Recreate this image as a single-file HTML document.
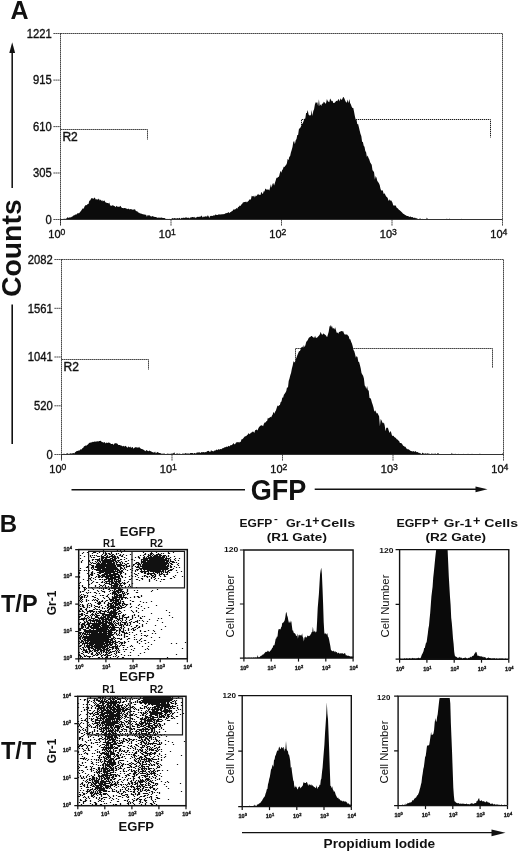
<!DOCTYPE html>
<html><head><meta charset="utf-8"><style>
html,body{margin:0;padding:0;background:#fff;width:520px;height:853px;overflow:hidden}
svg{display:block;will-change:transform}
text{font-family:"Liberation Sans", sans-serif;fill:#111}
</style></head><body>
<svg width="520" height="853" viewBox="0 0 520 853">
<text x="10.5" y="19.3" font-size="25" font-weight="bold" text-anchor="start" >A</text>
<path d="M60.5,129.5H147.5V139.5" fill="none" stroke="#1a1a1a" stroke-width="1" stroke-dasharray="1.3,0.7"/>
<path d="M301.5,125V119.5H490.5V137.5" fill="none" stroke="#1a1a1a" stroke-width="1" stroke-dasharray="1.3,0.7"/>
<path d="M60.5,219.5L60.5,219.5L61.3,219.5L62.1,218.9L62.9,219.5L63.7,218.8L64.5,218.7L65.3,218.9L66.1,218.4L66.9,218.2L67.7,217.1L68.5,218.0L69.3,217.6L70.1,217.2L70.9,217.4L71.7,216.7L72.5,216.4L73.3,215.6L74.1,215.5L74.9,214.8L75.7,214.4L76.5,214.4L77.3,213.5L78.1,213.1L78.9,213.5L79.7,212.6L80.5,211.4L81.3,210.5L82.1,209.3L82.9,208.2L83.7,208.7L84.5,206.6L85.3,205.3L86.1,205.3L86.9,204.9L87.7,204.0L88.5,204.1L89.3,200.7L90.1,200.6L90.9,199.1L91.7,198.0L92.5,198.3L93.3,199.1L94.1,197.8L94.9,197.7L95.7,199.4L96.5,199.3L97.3,199.4L98.1,199.6L98.9,198.6L99.7,200.5L100.5,199.5L101.3,201.0L102.1,200.0L102.9,201.6L103.7,200.8L104.5,200.5L105.3,202.3L106.1,202.5L106.9,203.1L107.7,203.0L108.5,203.6L109.3,202.5L110.1,205.3L110.9,205.7L111.7,205.8L112.5,205.2L113.3,205.4L114.1,205.9L114.9,206.3L115.7,207.2L116.5,205.7L117.3,206.4L118.1,207.1L118.9,206.5L119.7,206.8L120.5,205.8L121.3,207.2L122.1,207.9L122.9,207.9L123.7,208.3L124.5,208.1L125.3,208.0L126.1,208.8L126.9,208.5L127.7,209.2L128.5,208.4L129.3,209.5L130.1,208.9L130.9,209.3L131.7,209.3L132.5,209.7L133.3,209.4L134.1,209.8L134.9,208.9L135.7,210.7L136.5,211.3L137.3,211.3L138.1,212.4L138.9,212.6L139.7,213.2L140.5,213.4L141.3,213.5L142.1,214.2L142.9,214.1L143.7,214.6L144.5,214.4L145.3,214.8L146.1,214.7L146.9,216.7L147.7,215.1L148.5,215.4L149.3,215.2L150.1,215.7L150.9,216.4L151.7,216.5L152.5,216.1L153.3,216.6L154.1,216.8L154.9,217.1L155.7,217.1L156.5,217.3L157.3,217.8L158.1,217.7L158.9,217.6L159.7,217.8L160.5,217.8L161.3,217.5L162.1,217.8L162.9,218.0L163.7,218.1L164.5,218.1L165.3,218.4L166.1,219.3L166.9,218.8L167.7,218.9L168.5,218.9L169.3,218.8L170.1,219.4L170.9,218.9L171.7,218.7L172.5,218.1L173.3,218.6L174.1,218.3L174.9,218.1L175.7,218.4L176.5,218.6L177.3,218.1L178.1,218.5L178.9,218.2L179.7,217.8L180.5,218.9L181.3,218.0L182.1,217.8L182.9,218.3L183.7,217.4L184.5,218.0L185.3,217.4L186.1,217.6L186.9,217.4L187.7,217.9L188.5,217.5L189.3,218.4L190.1,217.5L190.9,217.5L191.7,217.3L192.5,217.1L193.3,217.1L194.1,217.8L194.9,216.8L195.7,218.2L196.5,217.2L197.3,216.8L198.1,217.0L198.9,216.8L199.7,216.7L200.5,216.8L201.3,215.6L202.1,216.6L202.9,217.5L203.7,216.4L204.5,216.7L205.3,216.4L206.1,216.1L206.9,216.9L207.7,215.2L208.5,216.0L209.3,218.0L210.1,215.8L210.9,216.2L211.7,215.8L212.5,215.9L213.3,215.6L214.1,215.3L214.9,215.5L215.7,214.3L216.5,215.0L217.3,214.9L218.1,214.8L218.9,214.3L219.7,214.4L220.5,214.6L221.3,214.3L222.1,214.6L222.9,214.1L223.7,214.3L224.5,213.9L225.3,213.5L226.1,213.1L226.9,213.3L227.7,212.7L228.5,212.1L229.3,213.3L230.1,212.3L230.9,212.0L231.7,211.3L232.5,210.9L233.3,209.5L234.1,209.6L234.9,209.5L235.7,209.0L236.5,208.1L237.3,208.8L238.1,207.0L238.9,206.7L239.7,205.6L240.5,206.1L241.3,204.5L242.1,204.0L242.9,202.6L243.7,202.3L244.5,201.9L245.3,202.1L246.1,201.5L246.9,202.6L247.7,201.5L248.5,200.9L249.3,199.5L250.1,199.4L250.9,199.6L251.7,195.8L252.5,196.3L253.3,196.6L254.1,195.4L254.9,197.4L255.7,195.4L256.5,196.1L257.3,195.1L258.1,193.8L258.9,195.1L259.7,194.8L260.5,195.1L261.3,191.7L262.1,193.2L262.9,194.0L263.7,191.3L264.5,191.4L265.3,188.4L266.1,189.3L266.9,189.8L267.7,189.5L268.5,189.5L269.3,190.5L270.1,187.4L270.9,184.2L271.7,187.8L272.5,184.0L273.3,183.0L274.1,185.5L274.9,182.9L275.7,180.4L276.5,177.7L277.3,177.9L278.1,176.7L278.9,177.0L279.7,173.8L280.5,170.7L281.3,172.7L282.1,170.2L282.9,169.2L283.7,166.7L284.5,166.9L285.3,165.8L286.1,165.0L286.9,163.3L287.7,158.8L288.5,160.2L289.3,156.7L290.1,156.2L290.9,152.4L291.7,150.1L292.5,146.9L293.3,141.9L294.1,140.9L294.9,144.3L295.7,140.3L296.5,139.1L297.3,134.9L298.1,134.9L298.9,129.3L299.7,128.2L300.5,127.5L301.3,125.6L302.1,124.0L302.9,123.0L303.7,120.8L304.5,118.7L305.3,118.4L306.1,113.0L306.9,112.9L307.7,110.1L308.5,114.2L309.3,115.7L310.1,114.7L310.9,115.7L311.7,109.9L312.5,116.0L313.3,111.0L314.1,109.2L314.9,104.4L315.7,102.3L316.5,102.8L317.3,102.2L318.1,106.3L318.9,99.3L319.7,105.9L320.5,104.3L321.3,106.0L322.1,103.2L322.9,103.9L323.7,101.8L324.5,102.2L325.3,103.8L326.1,103.1L326.9,98.9L327.7,101.0L328.5,101.8L329.3,102.3L330.1,98.6L330.9,99.7L331.7,101.2L332.5,100.8L333.3,103.0L334.1,103.0L334.9,102.4L335.7,101.6L336.5,100.8L337.3,101.3L338.1,99.6L338.9,99.3L339.7,101.6L340.5,98.2L341.3,99.8L342.1,99.5L342.9,97.6L343.7,96.9L344.5,98.7L345.3,100.7L346.1,102.2L346.9,102.5L347.7,99.6L348.5,103.2L349.3,99.0L350.1,102.9L350.9,104.5L351.7,106.8L352.5,107.9L353.3,107.9L354.1,112.1L354.9,116.2L355.7,119.8L356.5,119.8L357.3,124.2L358.1,123.9L358.9,127.2L359.7,130.8L360.5,134.1L361.3,136.1L362.1,141.7L362.9,142.1L363.7,145.7L364.5,146.7L365.3,150.9L366.1,152.2L366.9,157.0L367.7,155.4L368.5,157.9L369.3,159.6L370.1,162.3L370.9,163.5L371.7,164.7L372.5,170.3L373.3,170.9L374.1,172.4L374.9,179.6L375.7,176.1L376.5,177.8L377.3,181.0L378.1,182.0L378.9,183.3L379.7,184.9L380.5,188.8L381.3,190.7L382.1,190.1L382.9,190.9L383.7,194.0L384.5,193.3L385.3,194.7L386.1,196.6L386.9,197.1L387.7,198.0L388.5,201.0L389.3,199.2L390.1,200.9L390.9,200.1L391.7,201.3L392.5,202.7L393.3,205.8L394.1,205.0L394.9,206.0L395.7,205.3L396.5,207.5L397.3,207.9L398.1,208.7L398.9,209.8L399.7,210.2L400.5,211.1L401.3,211.7L402.1,212.6L402.9,213.5L403.7,213.9L404.5,214.6L405.3,215.0L406.1,215.4L406.9,216.0L407.7,216.1L408.5,216.3L409.3,217.0L410.1,216.6L410.9,216.7L411.7,217.3L412.5,217.1L413.3,217.7L414.1,217.9L414.9,217.6L415.7,218.3L416.5,218.3L417.3,218.4L418.1,219.2L418.9,219.2L419.7,218.6L420.5,218.6L421.3,219.5L422.1,218.7L422.9,219.3L423.7,219.0L424.5,219.1L425.3,219.3L426.1,219.5L426.9,217.6L427.7,219.0L428.5,219.5L429.3,219.4L430.1,219.3L430.9,219.5L431.7,219.3L432.5,219.5L433.3,219.5L434.1,219.5L434.9,219.5L435.7,219.5L436.5,219.5L437.3,219.3L438.1,219.5L438.9,219.5L439.7,219.5L440.5,219.5L441.3,219.5L442.1,219.0L442.9,219.5L443.7,219.5L444.5,219.5L445.3,219.5L446.1,219.4L446.9,218.6L447.7,219.4L448.5,219.5L449.3,218.6L450.1,219.2L450.9,219.4L451.7,219.5L452.5,219.5L453.3,219.5L454.1,219.3L454.9,219.5L455.7,219.5L456.5,219.5L457.3,219.5L458.1,219.2L458.9,219.5L459.7,219.5L460.5,219.5L461.3,218.7L462.1,219.3L462.9,219.5L463.7,219.1L464.5,219.5L465.3,219.4L466.1,219.5L466.9,219.5L467.7,219.1L468.5,219.5L469.3,219.5L470.1,219.5L470.9,219.5L471.7,219.5L472.5,219.5L473.3,219.5L474.1,219.5L474.9,219.5L475.7,219.5L476.5,219.5L477.3,219.5L478.1,219.3L478.9,219.5L479.7,219.5L480.5,219.5L481.3,219.5L482.1,219.5L482.9,219.5L483.7,219.5L484.5,219.5L485.3,219.5L486.1,219.5L486.9,219.3L487.7,219.5L488.5,219.5L489.3,219.5L490.1,219.5L490.9,219.0L491.7,219.5L492.5,219.5L493.3,219.5L494.1,219.5L494.9,219.5L495.7,219.5L496.5,219.5L497.3,219.5L498.1,219.5L498.9,219.5L499.7,219.3L500.5,219.5L501.3,219.5L502.1,219.5L502.5,219.5Z" fill="#0b0b0b"/>
<path d="M60.5,33.5H502.5V219.5" fill="none" stroke="#1a1a1a" stroke-width="1" stroke-dasharray="1.3,0.7"/>
<path d="M60.5,33.5V224.5" fill="none" stroke="#1a1a1a" stroke-width="1" stroke-dasharray="1.3,0.7"/>
<path d="M60.5,219.5H502.5" fill="none" stroke="#333" stroke-width="1.1"/>
<path d="M53.5,33.5H60.5" stroke="#222" stroke-width="1" stroke-dasharray="1.3,0.7"/>
<text x="51.7" y="37.8" font-size="12" font-weight="normal" text-anchor="end" stroke="#111" stroke-width="0.35" textLength="25.00" lengthAdjust="spacingAndGlyphs">1221</text>
<path d="M53.5,80.1H60.5" stroke="#222" stroke-width="1" stroke-dasharray="1.3,0.7"/>
<text x="51.7" y="84.4142506142506" font-size="12" font-weight="normal" text-anchor="end" stroke="#111" stroke-width="0.35" textLength="18.75" lengthAdjust="spacingAndGlyphs">915</text>
<path d="M53.5,126.6H60.5" stroke="#222" stroke-width="1" stroke-dasharray="1.3,0.7"/>
<text x="51.7" y="130.87616707616706" font-size="12" font-weight="normal" text-anchor="end" stroke="#111" stroke-width="0.35" textLength="18.75" lengthAdjust="spacingAndGlyphs">610</text>
<path d="M53.5,173.0H60.5" stroke="#222" stroke-width="1" stroke-dasharray="1.3,0.7"/>
<text x="51.7" y="177.33808353808354" font-size="12" font-weight="normal" text-anchor="end" stroke="#111" stroke-width="0.35" textLength="18.75" lengthAdjust="spacingAndGlyphs">305</text>
<path d="M53.5,219.5H60.5" stroke="#222" stroke-width="1" stroke-dasharray="1.3,0.7"/>
<text x="51.7" y="223.8" font-size="12" font-weight="normal" text-anchor="end" stroke="#111" stroke-width="0.35" textLength="6.25" lengthAdjust="spacingAndGlyphs">0</text>
<path d="M60.5,219.5V226.0" stroke="#222" stroke-width="1" stroke-dasharray="1.3,0.7"/>
<text x="48.3" y="237.9" font-size="11" font-weight="normal" text-anchor="start" stroke="#111" stroke-width="0.35">10<tspan font-size="8.6" dy="-2.9">0</tspan></text>
<path d="M171.0,219.5V226.0" stroke="#222" stroke-width="1" stroke-dasharray="1.3,0.7"/>
<text x="158.8" y="237.9" font-size="11" font-weight="normal" text-anchor="start" stroke="#111" stroke-width="0.35">10<tspan font-size="8.6" dy="-2.9">1</tspan></text>
<path d="M281.5,219.5V226.0" stroke="#222" stroke-width="1" stroke-dasharray="1.3,0.7"/>
<text x="269.3" y="237.9" font-size="11" font-weight="normal" text-anchor="start" stroke="#111" stroke-width="0.35">10<tspan font-size="8.6" dy="-2.9">2</tspan></text>
<path d="M392.0,219.5V226.0" stroke="#222" stroke-width="1" stroke-dasharray="1.3,0.7"/>
<text x="379.8" y="237.9" font-size="11" font-weight="normal" text-anchor="start" stroke="#111" stroke-width="0.35">10<tspan font-size="8.6" dy="-2.9">3</tspan></text>
<path d="M502.5,219.5V226.0" stroke="#222" stroke-width="1" stroke-dasharray="1.3,0.7"/>
<text x="490.3" y="237.9" font-size="11" font-weight="normal" text-anchor="start" stroke="#111" stroke-width="0.35">10<tspan font-size="8.6" dy="-2.9">4</tspan></text>
<text x="62.4" y="141.4" font-size="12" font-weight="normal" text-anchor="start" stroke="#111" stroke-width="0.4">R2</text>
<path d="M61.5,359.5H148.5V369.5" fill="none" stroke="#1a1a1a" stroke-width="1" stroke-dasharray="1.3,0.7"/>
<path d="M295.5,362.5V348.5H492.5V368" fill="none" stroke="#1a1a1a" stroke-width="1" stroke-dasharray="1.3,0.7"/>
<path d="M61.5,454.5L61.5,454.0L62.3,454.0L63.1,454.4L63.9,453.6L64.7,454.1L65.5,454.2L66.3,453.7L67.1,453.2L67.9,453.6L68.7,453.9L69.5,453.7L70.3,453.2L71.1,453.5L71.9,453.6L72.7,453.3L73.5,453.1L74.3,453.5L75.1,452.3L75.9,451.7L76.7,451.1L77.5,450.9L78.3,450.6L79.1,450.7L79.9,450.0L80.7,449.2L81.5,449.5L82.3,448.3L83.1,447.9L83.9,446.6L84.7,446.0L85.5,445.6L86.3,445.8L87.1,444.9L87.9,444.5L88.7,443.6L89.5,442.8L90.3,442.7L91.1,442.3L91.9,442.5L92.7,441.7L93.5,442.0L94.3,441.4L95.1,441.8L95.9,441.4L96.7,441.5L97.5,441.2L98.3,441.4L99.1,441.1L99.9,440.9L100.7,440.8L101.5,441.8L102.3,441.9L103.1,442.4L103.9,442.4L104.7,442.0L105.5,443.5L106.3,442.5L107.1,442.9L107.9,442.8L108.7,442.5L109.5,442.8L110.3,443.3L111.1,444.1L111.9,443.9L112.7,443.8L113.5,444.9L114.3,443.5L115.1,443.5L115.9,443.0L116.7,443.4L117.5,443.8L118.3,444.9L119.1,445.1L119.9,445.1L120.7,445.4L121.5,445.5L122.3,446.5L123.1,445.7L123.9,446.3L124.7,446.4L125.5,445.8L126.3,446.6L127.1,447.6L127.9,447.5L128.7,446.2L129.5,447.5L130.3,446.5L131.1,448.0L131.9,447.2L132.7,447.0L133.5,448.7L134.3,447.7L135.1,447.6L135.9,447.0L136.7,447.6L137.5,447.6L138.3,447.7L139.1,446.7L139.9,448.0L140.7,448.4L141.5,448.9L142.3,449.1L143.1,449.7L143.9,449.7L144.7,450.8L145.5,451.2L146.3,449.9L147.1,450.4L147.9,450.9L148.7,451.3L149.5,450.5L150.3,451.0L151.1,451.5L151.9,451.8L152.7,452.3L153.5,452.4L154.3,452.4L155.1,451.5L155.9,453.4L156.7,452.6L157.5,452.1L158.3,452.6L159.1,453.1L159.9,453.0L160.7,453.2L161.5,453.7L162.3,453.8L163.1,453.5L163.9,453.8L164.7,453.5L165.5,454.5L166.3,453.7L167.1,454.5L167.9,452.9L168.7,454.2L169.5,453.8L170.3,454.0L171.1,453.5L171.9,453.8L172.7,453.6L173.5,453.3L174.3,452.2L175.1,454.3L175.9,453.9L176.7,453.4L177.5,453.5L178.3,453.7L179.1,454.0L179.9,453.2L180.7,454.5L181.5,454.4L182.3,453.4L183.1,453.7L183.9,453.5L184.7,453.8L185.5,453.1L186.3,453.6L187.1,453.6L187.9,453.6L188.7,453.6L189.5,453.8L190.3,453.1L191.1,452.9L191.9,453.1L192.7,453.1L193.5,453.8L194.3,453.1L195.1,453.1L195.9,453.7L196.7,452.5L197.5,452.5L198.3,452.5L199.1,452.3L199.9,452.6L200.7,453.1L201.5,451.9L202.3,452.2L203.1,452.2L203.9,452.0L204.7,452.4L205.5,452.0L206.3,452.2L207.1,451.1L207.9,451.2L208.7,450.8L209.5,451.7L210.3,452.0L211.1,450.0L211.9,451.3L212.7,451.1L213.5,451.4L214.3,450.5L215.1,450.7L215.9,450.1L216.7,449.6L217.5,450.2L218.3,449.0L219.1,449.8L219.9,449.2L220.7,449.1L221.5,449.3L222.3,448.3L223.1,448.2L223.9,447.8L224.7,447.3L225.5,447.2L226.3,446.6L227.1,446.9L227.9,446.4L228.7,445.8L229.5,446.6L230.3,445.2L231.1,445.2L231.9,444.9L232.7,444.2L233.5,442.9L234.3,444.2L235.1,444.2L235.9,442.7L236.7,442.3L237.5,442.3L238.3,441.9L239.1,442.8L239.9,441.8L240.7,441.9L241.5,439.2L242.3,439.3L243.1,438.4L243.9,437.6L244.7,436.5L245.5,436.3L246.3,436.1L247.1,434.9L247.9,434.4L248.7,433.1L249.5,434.2L250.3,433.4L251.1,432.4L251.9,432.6L252.7,431.6L253.5,431.7L254.3,433.1L255.1,430.2L255.9,430.1L256.7,429.4L257.5,430.4L258.3,428.4L259.1,426.9L259.9,426.3L260.7,425.4L261.5,425.3L262.3,425.4L263.1,426.2L263.9,423.7L264.7,422.4L265.5,422.5L266.3,421.3L267.1,421.1L267.9,417.8L268.7,418.4L269.5,417.7L270.3,416.8L271.1,417.5L271.9,415.7L272.7,414.4L273.5,411.7L274.3,413.8L275.1,411.7L275.9,410.4L276.7,408.1L277.5,405.6L278.3,406.2L279.1,405.3L279.9,405.0L280.7,401.9L281.5,401.6L282.3,397.5L283.1,397.8L283.9,394.7L284.7,393.7L285.5,392.6L286.3,391.1L287.1,386.8L287.9,388.2L288.7,380.9L289.5,378.6L290.3,375.3L291.1,372.7L291.9,368.6L292.7,365.6L293.5,361.3L294.3,362.0L295.1,362.4L295.9,358.9L296.7,357.0L297.5,354.8L298.3,353.0L299.1,351.1L299.9,351.2L300.7,349.1L301.5,347.3L302.3,346.6L303.1,347.8L303.9,344.9L304.7,347.3L305.5,344.8L306.3,341.7L307.1,340.9L307.9,339.7L308.7,337.9L309.5,337.3L310.3,336.9L311.1,336.0L311.9,336.1L312.7,337.1L313.5,337.4L314.3,337.8L315.1,335.8L315.9,338.1L316.7,337.8L317.5,337.3L318.3,336.2L319.1,335.4L319.9,334.2L320.7,331.7L321.5,333.9L322.3,335.0L323.1,333.6L323.9,333.8L324.7,334.6L325.5,335.0L326.3,335.9L327.1,337.3L327.9,334.4L328.7,331.8L329.5,326.8L330.3,325.1L331.1,327.6L331.9,325.5L332.7,328.5L333.5,328.1L334.3,329.4L335.1,327.3L335.9,330.0L336.7,332.7L337.5,332.4L338.3,333.8L339.1,331.8L339.9,332.1L340.7,331.3L341.5,331.1L342.3,331.4L343.1,331.0L343.9,333.2L344.7,334.6L345.5,334.6L346.3,334.6L347.1,334.6L347.9,335.4L348.7,336.3L349.5,339.3L350.3,339.2L351.1,341.7L351.9,343.4L352.7,346.3L353.5,350.1L354.3,351.3L355.1,354.2L355.9,357.8L356.7,355.9L357.5,357.2L358.3,361.7L359.1,362.1L359.9,365.1L360.7,368.3L361.5,373.1L362.3,374.6L363.1,375.8L363.9,378.4L364.7,385.5L365.5,386.6L366.3,388.9L367.1,385.9L367.9,390.3L368.7,390.5L369.5,398.0L370.3,398.0L371.1,399.4L371.9,402.5L372.7,404.7L373.5,407.5L374.3,411.7L375.1,410.3L375.9,411.7L376.7,413.6L377.5,412.9L378.3,414.7L379.1,416.2L379.9,426.3L380.7,419.0L381.5,420.3L382.3,422.3L383.1,423.5L383.9,422.6L384.7,425.4L385.5,431.2L386.3,427.7L387.1,427.8L387.9,427.8L388.7,430.5L389.5,433.0L390.3,430.9L391.1,432.2L391.9,435.3L392.7,436.0L393.5,435.7L394.3,436.9L395.1,437.4L395.9,437.9L396.7,439.2L397.5,439.5L398.3,440.6L399.1,441.0L399.9,442.9L400.7,443.1L401.5,443.3L402.3,444.3L403.1,445.8L403.9,446.1L404.7,446.8L405.5,446.8L406.3,448.5L407.1,448.8L407.9,449.5L408.7,449.2L409.5,450.1L410.3,450.7L411.1,451.0L411.9,451.3L412.7,451.5L413.5,450.9L414.3,451.9L415.1,451.1L415.9,451.6L416.7,452.3L417.5,452.1L418.3,452.6L419.1,453.2L419.9,452.7L420.7,453.5L421.5,454.5L422.3,452.5L423.1,453.3L423.9,453.6L424.7,453.7L425.5,453.3L426.3,453.8L427.1,453.5L427.9,453.3L428.7,453.7L429.5,453.8L430.3,454.1L431.1,453.9L431.9,453.2L432.7,453.9L433.5,453.8L434.3,454.1L435.1,453.2L435.9,454.1L436.7,454.3L437.5,453.3L438.3,453.0L439.1,454.5L439.9,454.5L440.7,453.9L441.5,454.5L442.3,454.1L443.1,454.2L443.9,454.2L444.7,454.1L445.5,454.5L446.3,454.3L447.1,454.5L447.9,454.3L448.7,454.5L449.5,454.2L450.3,454.2L451.1,454.3L451.9,452.8L452.7,454.5L453.5,453.8L454.3,454.5L455.1,453.5L455.9,454.4L456.7,454.5L457.5,454.3L458.3,453.7L459.1,454.5L459.9,454.1L460.7,454.1L461.5,454.4L462.3,454.5L463.1,453.8L463.9,454.2L464.7,454.4L465.5,454.1L466.3,454.5L467.1,454.4L467.9,453.7L468.7,453.9L469.5,453.9L470.3,454.3L471.1,454.5L471.9,453.8L472.7,453.9L473.5,454.0L474.3,454.4L475.1,454.3L475.9,454.3L476.7,453.9L477.5,454.5L478.3,454.3L479.1,454.5L479.9,453.4L480.7,454.3L481.5,454.2L482.3,454.5L483.1,454.5L483.9,454.4L484.7,454.0L485.5,454.5L486.3,454.5L487.1,454.5L487.9,454.5L488.7,454.4L489.5,454.2L490.3,454.1L491.1,454.5L491.9,454.5L492.7,454.5L493.5,454.5L494.3,454.4L495.1,454.5L495.9,454.5L496.7,454.1L497.5,454.4L498.3,454.5L499.1,454.1L499.9,454.5L500.7,454.5L501.5,454.0L502.3,454.1L503.1,452.7L503.5,454.5Z" fill="#0b0b0b"/>
<path d="M61.5,259.5H503.5V454.5" fill="none" stroke="#1a1a1a" stroke-width="1" stroke-dasharray="1.3,0.7"/>
<path d="M61.5,259.5V459.5" fill="none" stroke="#1a1a1a" stroke-width="1" stroke-dasharray="1.3,0.7"/>
<path d="M61.5,454.5H503.5" fill="none" stroke="#333" stroke-width="1.1"/>
<path d="M54.5,259.5H61.5" stroke="#222" stroke-width="1" stroke-dasharray="1.3,0.7"/>
<text x="52.7" y="263.8" font-size="12" font-weight="normal" text-anchor="end" stroke="#111" stroke-width="0.35" textLength="25.00" lengthAdjust="spacingAndGlyphs">2082</text>
<path d="M54.5,308.3H61.5" stroke="#222" stroke-width="1" stroke-dasharray="1.3,0.7"/>
<text x="52.7" y="312.59682997118153" font-size="12" font-weight="normal" text-anchor="end" stroke="#111" stroke-width="0.35" textLength="25.00" lengthAdjust="spacingAndGlyphs">1561</text>
<path d="M54.5,357.0H61.5" stroke="#222" stroke-width="1" stroke-dasharray="1.3,0.7"/>
<text x="52.7" y="361.3" font-size="12" font-weight="normal" text-anchor="end" stroke="#111" stroke-width="0.35" textLength="25.00" lengthAdjust="spacingAndGlyphs">1041</text>
<path d="M54.5,405.8H61.5" stroke="#222" stroke-width="1" stroke-dasharray="1.3,0.7"/>
<text x="52.7" y="410.0968299711816" font-size="12" font-weight="normal" text-anchor="end" stroke="#111" stroke-width="0.35" textLength="18.75" lengthAdjust="spacingAndGlyphs">520</text>
<path d="M54.5,454.5H61.5" stroke="#222" stroke-width="1" stroke-dasharray="1.3,0.7"/>
<text x="52.7" y="458.8" font-size="12" font-weight="normal" text-anchor="end" stroke="#111" stroke-width="0.35" textLength="6.25" lengthAdjust="spacingAndGlyphs">0</text>
<path d="M61.5,454.5V461.0" stroke="#222" stroke-width="1" stroke-dasharray="1.3,0.7"/>
<text x="49.3" y="472.9" font-size="11" font-weight="normal" text-anchor="start" stroke="#111" stroke-width="0.35">10<tspan font-size="8.6" dy="-2.9">0</tspan></text>
<path d="M172.0,454.5V461.0" stroke="#222" stroke-width="1" stroke-dasharray="1.3,0.7"/>
<text x="159.8" y="472.9" font-size="11" font-weight="normal" text-anchor="start" stroke="#111" stroke-width="0.35">10<tspan font-size="8.6" dy="-2.9">1</tspan></text>
<path d="M282.5,454.5V461.0" stroke="#222" stroke-width="1" stroke-dasharray="1.3,0.7"/>
<text x="270.3" y="472.9" font-size="11" font-weight="normal" text-anchor="start" stroke="#111" stroke-width="0.35">10<tspan font-size="8.6" dy="-2.9">2</tspan></text>
<path d="M393.0,454.5V461.0" stroke="#222" stroke-width="1" stroke-dasharray="1.3,0.7"/>
<text x="380.8" y="472.9" font-size="11" font-weight="normal" text-anchor="start" stroke="#111" stroke-width="0.35">10<tspan font-size="8.6" dy="-2.9">3</tspan></text>
<path d="M503.5,454.5V461.0" stroke="#222" stroke-width="1" stroke-dasharray="1.3,0.7"/>
<text x="491.3" y="472.9" font-size="11" font-weight="normal" text-anchor="start" stroke="#111" stroke-width="0.35">10<tspan font-size="8.6" dy="-2.9">4</tspan></text>
<text x="63.5" y="371.4" font-size="12" font-weight="normal" text-anchor="start" stroke="#111" stroke-width="0.4">R2</text>
<path d="M12.2,188V51" stroke="#1a1a1a" stroke-width="1.6"/>
<path d="M12.2,42.2L9.3,53L15.1,53Z" fill="#111"/>
<path d="M12.2,304.5V444" stroke="#111" stroke-width="1.6"/>
<text transform="translate(21.0,248.2) rotate(-90)" font-size="28.4" font-weight="bold" text-anchor="middle">Counts</text>
<path d="M71.5,489.8H245" stroke="#111" stroke-width="1.6"/>
<path d="M314.7,489.3H477" stroke="#111" stroke-width="1.6"/>
<path d="M487.5,489.3L475.5,486.4L475.5,492.2Z" fill="#111"/>
<text x="278.6" y="500" font-size="28.6" font-weight="bold" text-anchor="middle" textLength="55.6" lengthAdjust="spacingAndGlyphs">GFP</text>
<text x="-0.3" y="531.7" font-size="24" font-weight="bold" text-anchor="start" >B</text>
<text x="1" y="611.5" font-size="23.5" font-weight="bold" text-anchor="start" >T/P</text>
<text x="1" y="759.2" font-size="23.5" font-weight="bold" text-anchor="start" >T/T</text>
<text x="137.5" y="536.0" font-size="13" font-weight="bold" text-anchor="middle" >EGFP</text>
<text x="103.1" y="547.3" font-size="10.8" font-weight="bold" textLength="12.4" lengthAdjust="spacingAndGlyphs">R1</text>
<text x="150.0" y="547.3" font-size="10.8" font-weight="bold" textLength="13.0" lengthAdjust="spacingAndGlyphs">R2</text>
<text x="137.0" y="680.6" font-size="13" font-weight="bold" text-anchor="middle" >EGFP</text>
<text transform="translate(55.5,603) rotate(-90)" font-size="12" font-weight="bold" text-anchor="middle">Gr-1</text>
<path transform="translate(0,0.5)" d="M102.9 550h1.2m12.8 0h1.2m1.8 0h1.2m2.8 0h1.2M111.9 551h1.2m2.8 0h1.2m5.8 0h1.2m17.8 0h1.2m1.8 0h1.2m4.8 0h1.2m2.8 0h2.2m4.8 0h1.2m0.8 0h1.2M82.9 552h1.2m2.8 0h1.2m4.8 0h3.2m2.8 0h1.2m2.8 0h1.2m0.8 0h1.2m4.8 0h1.2m8.8 0h1.2m20.8 0h1.2m6.8 0h1.2m3.8 0h1.2m10.8 0h1.2m3.8 0h1.2M81.9 553h1.2m8.8 0h1.2m3.8 0h1.2m4.8 0h1.2m0.8 0h2.2m0.8 0h2.2m0.8 0h1.2m3.8 0h1.2m0.8 0h1.2m25.8 0h1.2m3.8 0h3.2m4.8 0h1.2m1.8 0h1.2m0.8 0h1.2m3.8 0h2.2M87.9 554h1.2m12.8 0h1.2m1.8 0h2.2m1.8 0h2.2m0.8 0h2.2m1.8 0h1.2m2.8 0h1.2m1.8 0h1.2m5.8 0h1.2m12.8 0h2.2m1.8 0h1.2m0.8 0h2.2m0.8 0h1.2m1.8 0h5.2M79.9 555h1.2m8.8 0h1.2m0.8 0h1.2m0.8 0h1.2m0.8 0h1.2m3.8 0h1.2m1.8 0h2.2m0.8 0h1.2m2.8 0h2.2m0.8 0h1.2m3.8 0h2.2m0.8 0h1.2m2.8 0h1.2m12.8 0h1.2m1.8 0h1.2m3.8 0h3.2m0.8 0h1.2m0.8 0h4.2m0.8 0h3.2m0.8 0h3.2m1.8 0h1.2M83.9 556h1.2m4.8 0h1.2m5.8 0h3.2m0.8 0h3.2m1.8 0h2.2m0.8 0h7.2m0.8 0h1.2m2.8 0h2.2m14.8 0h1.2m4.8 0h1.2m1.8 0h2.2m0.8 0h2.2m0.8 0h8.2m0.8 0h3.2m0.8 0h1.2m0.8 0h1.2m4.8 0h1.2M90.9 557h1.2m0.8 0h2.2m5.8 0h9.2m1.8 0h4.2m0.8 0h2.2m4.8 0h1.2m9.8 0h1.2m1.8 0h2.2m2.8 0h2.2m0.8 0h1.2m0.8 0h17.2m0.8 0h1.2m2.8 0h1.2M79.9 558h1.2m17.8 0h1.2m0.8 0h3.2m0.8 0h2.2m2.8 0h3.2m0.8 0h3.2m0.8 0h1.2m6.8 0h1.2m11.8 0h1.2m2.8 0h21.2m0.8 0h5.2m4.8 0h1.2m2.8 0h1.2M91.9 559h2.2m0.8 0h5.2m0.8 0h2.2m0.8 0h7.2m0.8 0h4.2m3.8 0h2.2m1.8 0h1.2m5.8 0h2.2m7.8 0h7.2m0.8 0h18.2m0.8 0h1.2m0.8 0h1.2m2.8 0h1.2M81.9 560h1.2m5.8 0h1.2m1.8 0h1.2m3.8 0h3.2m0.8 0h15.2m0.8 0h3.2m7.8 0h1.2m4.8 0h1.2m5.8 0h1.2m0.8 0h26.2m0.8 0h1.2m3.8 0h1.2m1.8 0h1.2M80.9 561h1.2m6.8 0h1.2m4.8 0h1.2m0.8 0h1.2m0.8 0h2.2m0.8 0h12.2m0.8 0h2.2m0.8 0h1.2m1.8 0h1.2m2.8 0h2.2m13.8 0h5.2m0.8 0h18.2m0.8 0h3.2m0.8 0h4.2M80.9 562h1.2m7.8 0h1.2m0.8 0h1.2m2.8 0h1.2m0.8 0h1.2m0.8 0h1.2m0.8 0h10.2m0.8 0h2.2m0.8 0h2.2m0.8 0h2.2m0.8 0h1.2m12.8 0h3.2m1.8 0h27.2m0.8 0h1.2m1.8 0h3.2m0.8 0h1.2M90.9 563h1.2m0.8 0h3.2m0.8 0h3.2m0.8 0h5.2m0.8 0h8.2m0.8 0h1.2m2.8 0h1.2m0.8 0h1.2m0.8 0h1.2m1.8 0h2.2m5.8 0h2.2m0.8 0h2.2m0.8 0h1.2m0.8 0h26.2m0.8 0h2.2m5.8 0h1.2M88.9 564h2.2m4.8 0h19.2m0.8 0h6.2m2.8 0h2.2m5.8 0h2.2m1.8 0h4.2m0.8 0h25.2m0.8 0h1.2m1.8 0h2.2m3.8 0h1.2M90.9 565h3.2m1.8 0h20.2m0.8 0h8.2m0.8 0h1.2m1.8 0h1.2m2.8 0h1.2m3.8 0h1.2m0.8 0h1.2m0.8 0h24.2m0.8 0h2.2m0.8 0h1.2m6.8 0h1.2M86.9 566h1.2m3.8 0h2.2m0.8 0h21.2m0.8 0h4.2m1.8 0h1.2m1.8 0h4.2m1.8 0h1.2m1.8 0h1.2m0.8 0h2.2m0.8 0h29.2m0.8 0h2.2m1.8 0h1.2M85.9 567h2.2m2.8 0h3.2m0.8 0h10.2m0.8 0h11.2m2.8 0h2.2m1.8 0h1.2m0.8 0h1.2m8.8 0h4.2m1.8 0h26.2m1.8 0h2.2m3.8 0h1.2m1.8 0h1.2M79.9 568h1.2m9.8 0h1.2m0.8 0h1.2m2.8 0h21.2m1.8 0h3.2m0.8 0h1.2m6.8 0h1.2m5.8 0h30.2m3.8 0h1.2M91.9 569h1.2m0.8 0h7.2m0.8 0h17.2m0.8 0h1.2m1.8 0h1.2m0.8 0h1.2m3.8 0h1.2m4.8 0h3.2m0.8 0h2.2m0.8 0h25.2m1.8 0h3.2M78.9 570h2.2m2.8 0h1.2m0.8 0h1.2m1.8 0h1.2m5.8 0h18.2m0.8 0h1.2m0.8 0h3.2m0.8 0h2.2m3.8 0h1.2m3.8 0h1.2m1.8 0h1.2m0.8 0h1.2m2.8 0h1.2m1.8 0h1.2m1.8 0h14.2m0.8 0h2.2m0.8 0h1.2m1.8 0h4.2m3.8 0h1.2M87.9 571h1.2m2.8 0h1.2m5.8 0h19.2m0.8 0h4.2m11.8 0h1.2m3.8 0h9.2m0.8 0h14.2m0.8 0h1.2m0.8 0h2.2m11.8 0h1.2M78.9 572h1.2m10.8 0h2.2m3.8 0h7.2m0.8 0h10.2m1.8 0h5.2m0.8 0h1.2m6.8 0h1.2m8.8 0h2.2m0.8 0h2.2m1.8 0h1.2m3.8 0h1.2m0.8 0h5.2m0.8 0h1.2m0.8 0h1.2m0.8 0h3.2m0.8 0h1.2m6.8 0h1.2M78.9 573h1.2m6.8 0h1.2m2.8 0h2.2m0.8 0h1.2m3.8 0h2.2m2.8 0h7.2m1.8 0h5.2m1.8 0h2.2m2.8 0h1.2m7.8 0h1.2m2.8 0h1.2m4.8 0h2.2m0.8 0h8.2m1.8 0h1.2m0.8 0h1.2m0.8 0h2.2m3.8 0h1.2M89.9 574h3.2m3.8 0h2.2m2.8 0h6.2m0.8 0h10.2m0.8 0h1.2m3.8 0h1.2m8.8 0h2.2m9.8 0h2.2m0.8 0h2.2m1.8 0h2.2m2.8 0h3.2m0.8 0h2.2m0.8 0h2.2M88.9 575h1.2m0.8 0h2.2m4.8 0h2.2m0.8 0h4.2m0.8 0h10.2m1.8 0h2.2m0.8 0h1.2m8.8 0h1.2m4.8 0h1.2m5.8 0h2.2m4.8 0h3.2m0.8 0h1.2m2.8 0h1.2m3.8 0h1.2m9.8 0h1.2M78.9 576h1.2m8.8 0h1.2m5.8 0h1.2m0.8 0h3.2m0.8 0h11.2m0.8 0h6.2m0.8 0h2.2m5.8 0h1.2m1.8 0h1.2m1.8 0h1.2m5.8 0h1.2m0.8 0h1.2m0.8 0h2.2m0.8 0h1.2m1.8 0h1.2m0.8 0h2.2m3.8 0h1.2m2.8 0h2.2m6.8 0h1.2m7.8 0h1.2M78.9 577h1.2m10.8 0h1.2m2.8 0h1.2m1.8 0h2.2m0.8 0h2.2m1.8 0h4.2m0.8 0h10.2m1.8 0h1.2m1.8 0h1.2m11.8 0h1.2m7.8 0h1.2m2.8 0h1.2m0.8 0h2.2m18.8 0h1.2M87.9 578h3.2m1.8 0h1.2m11.8 0h10.2m1.8 0h3.2m9.8 0h1.2m8.8 0h2.2m7.8 0h1.2m2.8 0h1.2m1.8 0h1.2m10.8 0h2.2M82.9 579h1.2m5.8 0h1.2m3.8 0h1.2m2.8 0h2.2m0.8 0h1.2m0.8 0h3.2m0.8 0h5.2m0.8 0h5.2m0.8 0h1.2m7.8 0h2.2m4.8 0h2.2m3.8 0h1.2m5.8 0h1.2m3.8 0h1.2m5.8 0h1.2m0.8 0h2.2M86.9 580h2.2m1.8 0h1.2m11.8 0h1.2m2.8 0h2.2m0.8 0h2.2m0.8 0h1.2m0.8 0h1.2m0.8 0h3.2m2.8 0h1.2m13.8 0h1.2m8.8 0h1.2m5.8 0h1.2M92.9 581h1.2m7.8 0h1.2m1.8 0h8.2m0.8 0h7.2m6.8 0h1.2m19.8 0h1.2m9.8 0h1.2M79.9 582h1.2m10.8 0h1.2m2.8 0h2.2m2.8 0h2.2m0.8 0h1.2m0.8 0h1.2m1.8 0h1.2m0.8 0h3.2m0.8 0h2.2m0.8 0h2.2m1.8 0h1.2m0.8 0h1.2m1.8 0h1.2M78.9 583h1.2m10.8 0h1.2m12.8 0h5.2m0.8 0h7.2m0.8 0h3.2m0.8 0h3.2m5.8 0h1.2M88.9 584h1.2m8.8 0h1.2m3.8 0h1.2m3.8 0h3.2m1.8 0h5.2m0.8 0h1.2m2.8 0h1.2m3.8 0h1.2M78.9 585h1.2m1.8 0h1.2m11.8 0h1.2m3.8 0h2.2m0.8 0h1.2m0.8 0h1.2m4.8 0h7.2m0.8 0h4.2m5.8 0h1.2M81.9 586h1.2m11.8 0h1.2m2.8 0h1.2m1.8 0h1.2m1.8 0h1.2m1.8 0h1.2m1.8 0h1.2m0.8 0h5.2m0.8 0h1.2m0.8 0h1.2m2.8 0h1.2m1.8 0h1.2m0.8 0h1.2M78.9 587h1.2m2.8 0h3.2m4.8 0h1.2m4.8 0h1.2m6.8 0h2.2m3.8 0h6.2m0.8 0h2.2m1.8 0h1.2m1.8 0h1.2m9.8 0h1.2M78.9 588h1.2m3.8 0h1.2m0.8 0h1.2m4.8 0h1.2m5.8 0h1.2m0.8 0h1.2m0.8 0h1.2m0.8 0h2.2m1.8 0h1.2m0.8 0h10.2M83.9 589h2.2m6.8 0h1.2m8.8 0h1.2m3.8 0h2.2m3.8 0h2.2m1.8 0h5.2m3.8 0h1.2m28.8 0h1.2M83.9 590h1.2m2.8 0h1.2m7.8 0h1.2m2.8 0h1.2m7.8 0h1.2m0.8 0h1.2m0.8 0h1.2m0.8 0h6.2m4.8 0h1.2m5.8 0h1.2m1.8 0h1.2m13.8 0h1.2M79.9 591h1.2m0.8 0h2.2m13.8 0h1.2m2.8 0h3.2m3.8 0h1.2m2.8 0h6.2m0.8 0h4.2m2.8 0h1.2m22.8 0h1.2M79.9 592h1.2m4.8 0h1.2m0.8 0h1.2m0.8 0h1.2m2.8 0h2.2m7.8 0h1.2m6.8 0h4.2m0.8 0h4.2m0.8 0h1.2m0.8 0h1.2m0.8 0h1.2m8.8 0h2.2M86.9 593h1.2m7.8 0h1.2m1.8 0h1.2m9.8 0h1.2m0.8 0h5.2m0.8 0h1.2m2.8 0h3.2m1.8 0h2.2M80.9 594h1.2m0.8 0h1.2m23.8 0h1.2m2.8 0h1.2m0.8 0h4.2m0.8 0h3.2m0.8 0h1.2m0.8 0h1.2m0.8 0h1.2M79.9 595h1.2m2.8 0h2.2m0.8 0h1.2m6.8 0h1.2m3.8 0h1.2m0.8 0h2.2m2.8 0h1.2m5.8 0h1.2m0.8 0h6.2m0.8 0h2.2m15.8 0h1.2M78.9 596h1.2m0.8 0h2.2m0.8 0h1.2m1.8 0h1.2m3.8 0h2.2m11.8 0h2.2m3.8 0h1.2m0.8 0h4.2m0.8 0h3.2m0.8 0h1.2m9.8 0h1.2m1.8 0h2.2m1.8 0h1.2M79.9 597h3.2m0.8 0h1.2m0.8 0h1.2m6.8 0h2.2m6.8 0h1.2m3.8 0h1.2m2.8 0h15.2m2.8 0h1.2m2.8 0h1.2m2.8 0h2.2M79.9 598h2.2m14.8 0h1.2m5.8 0h1.2m3.8 0h1.2m1.8 0h5.2m1.8 0h1.2m0.8 0h2.2m1.8 0h1.2m0.8 0h1.2M79.9 599h1.2m0.8 0h1.2m2.8 0h1.2m5.8 0h1.2m0.8 0h1.2m1.8 0h1.2m9.8 0h5.2m0.8 0h5.2m0.8 0h2.2M78.9 600h1.2m0.8 0h1.2m3.8 0h1.2m0.8 0h1.2m2.8 0h1.2m0.8 0h1.2m0.8 0h2.2m3.8 0h1.2m2.8 0h2.2m1.8 0h9.2m0.8 0h1.2m8.8 0h1.2M79.9 601h1.2m0.8 0h1.2m2.8 0h1.2m9.8 0h1.2m0.8 0h1.2m0.8 0h2.2m1.8 0h1.2m3.8 0h2.2m0.8 0h1.2m0.8 0h4.2m0.8 0h1.2m0.8 0h2.2m7.8 0h2.2m5.8 0h1.2m9.8 0h1.2M80.9 602h1.2m12.8 0h1.2m1.8 0h3.2m2.8 0h1.2m2.8 0h1.2m2.8 0h5.2m0.8 0h3.2m1.8 0h1.2m18.8 0h1.2m1.8 0h1.2M87.9 603h1.2m0.8 0h1.2m5.8 0h4.2m2.8 0h1.2m2.8 0h5.2m0.8 0h7.2m0.8 0h3.2m4.8 0h1.2M79.9 604h1.2m0.8 0h1.2m3.8 0h1.2m2.8 0h1.2m5.8 0h2.2m6.8 0h2.2m0.8 0h2.2m0.8 0h1.2m0.8 0h5.2m1.8 0h1.2m0.8 0h4.2m1.8 0h1.2m7.8 0h1.2M78.9 605h1.2m1.8 0h2.2m2.8 0h1.2m0.8 0h1.2m0.8 0h1.2m1.8 0h1.2m5.8 0h1.2m4.8 0h2.2m0.8 0h4.2m0.8 0h3.2m0.8 0h2.2m0.8 0h2.2m1.8 0h1.2m10.8 0h1.2m16.8 0h1.2M79.9 606h1.2m0.8 0h2.2m2.8 0h1.2m2.8 0h1.2m2.8 0h3.2m0.8 0h1.2m4.8 0h1.2m1.8 0h8.2m1.8 0h1.2m0.8 0h2.2m2.8 0h1.2m4.8 0h1.2m8.8 0h1.2M82.9 607h2.2m1.8 0h1.2m0.8 0h1.2m3.8 0h1.2m2.8 0h2.2m1.8 0h1.2m3.8 0h2.2m0.8 0h10.2m0.8 0h4.2m4.8 0h1.2m4.8 0h1.2m10.8 0h1.2M79.9 608h2.2m3.8 0h1.2m7.8 0h1.2m5.8 0h1.2m0.8 0h1.2m1.8 0h1.2m0.8 0h5.2m0.8 0h1.2m0.8 0h5.2m15.8 0h1.2m4.8 0h1.2M79.9 609h2.2m2.8 0h2.2m5.8 0h2.2m0.8 0h2.2m0.8 0h1.2m7.8 0h2.2m2.8 0h3.2m0.8 0h2.2M78.9 610h1.2m1.8 0h1.2m2.8 0h1.2m1.8 0h4.2m6.8 0h2.2m2.8 0h1.2m0.8 0h2.2m1.8 0h1.2m0.8 0h4.2m1.8 0h1.2m3.8 0h1.2m5.8 0h1.2m3.8 0h1.2m4.8 0h1.2m22.8 0h1.2M78.9 611h2.2m0.8 0h2.2m2.8 0h8.2m0.8 0h1.2m0.8 0h3.2m0.8 0h5.2m0.8 0h1.2m0.8 0h6.2m1.8 0h3.2m10.8 0h1.2m2.8 0h1.2M83.9 612h1.2m1.8 0h1.2m1.8 0h1.2m1.8 0h1.2m1.8 0h1.2m1.8 0h2.2m2.8 0h1.2m1.8 0h11.2m2.8 0h1.2m10.8 0h1.2m3.8 0h1.2m29.8 0h1.2M80.9 613h2.2m2.8 0h2.2m3.8 0h1.2m1.8 0h1.2m0.8 0h2.2m0.8 0h5.2m3.8 0h8.2m0.8 0h3.2m29.8 0h1.2M78.9 614h4.2m0.8 0h1.2m5.8 0h3.2m0.8 0h2.2m4.8 0h10.2m0.8 0h4.2m0.8 0h1.2m3.8 0h1.2m0.8 0h1.2m7.8 0h1.2M80.9 615h2.2m1.8 0h3.2m1.8 0h1.2m0.8 0h1.2m0.8 0h1.2m0.8 0h4.2m1.8 0h2.2m0.8 0h11.2m2.8 0h1.2m1.8 0h3.2m6.8 0h1.2m0.8 0h1.2m2.8 0h1.2m29.8 0h1.2M78.9 616h2.2m3.8 0h1.2m1.8 0h1.2m1.8 0h1.2m2.8 0h3.2m2.8 0h1.2m0.8 0h3.2m0.8 0h3.2m0.8 0h7.2m0.8 0h1.2m1.8 0h2.2m3.8 0h1.2m2.8 0h1.2m4.8 0h1.2m2.8 0h1.2m0.8 0h1.2M78.9 617h1.2m3.8 0h1.2m1.8 0h1.2m0.8 0h1.2m0.8 0h1.2m2.8 0h4.2m0.8 0h6.2m0.8 0h10.2m1.8 0h1.2m1.8 0h1.2m0.8 0h5.2m2.8 0h1.2m1.8 0h1.2m3.8 0h1.2m30.8 0h1.2M80.9 618h6.2m0.8 0h1.2m1.8 0h4.2m2.8 0h6.2m0.8 0h4.2m0.8 0h3.2m1.8 0h3.2m0.8 0h4.2m2.8 0h1.2m4.8 0h1.2m6.8 0h2.2m15.8 0h1.2m1.8 0h1.2M78.9 619h6.2m0.8 0h1.2m1.8 0h2.2m1.8 0h1.2m0.8 0h3.2m0.8 0h1.2m0.8 0h12.2m3.8 0h3.2m1.8 0h1.2m2.8 0h1.2m2.8 0h2.2m16.8 0h1.2M82.9 620h1.2m1.8 0h1.2m0.8 0h13.2m0.8 0h2.2m0.8 0h2.2m0.8 0h4.2m1.8 0h1.2m0.8 0h1.2m0.8 0h1.2m0.8 0h1.2m0.8 0h1.2m1.8 0h1.2m2.8 0h1.2m6.8 0h1.2m0.8 0h1.2m1.8 0h1.2m13.8 0h1.2M83.9 621h1.2m0.8 0h2.2m1.8 0h1.2m0.8 0h3.2m0.8 0h5.2m0.8 0h6.2m0.8 0h1.2m0.8 0h1.2m0.8 0h2.2m1.8 0h1.2m2.8 0h1.2m3.8 0h1.2m3.8 0h1.2m2.8 0h3.2m4.8 0h1.2m2.8 0h1.2M79.9 622h1.2m2.8 0h2.2m0.8 0h2.2m0.8 0h1.2m2.8 0h1.2m0.8 0h1.2m0.8 0h6.2m0.8 0h7.2m0.8 0h1.2m0.8 0h1.2m1.8 0h1.2m0.8 0h1.2m0.8 0h5.2m1.8 0h2.2m1.8 0h2.2m1.8 0h1.2m23.8 0h1.2M78.9 623h1.2m1.8 0h3.2m1.8 0h20.2m0.8 0h5.2m0.8 0h1.2m0.8 0h3.2m0.8 0h1.2m2.8 0h2.2m0.8 0h1.2m1.8 0h1.2m7.8 0h1.2m5.8 0h1.2M78.9 624h1.2m0.8 0h4.2m0.8 0h4.2m1.8 0h9.2m0.8 0h5.2m1.8 0h5.2m0.8 0h1.2m1.8 0h1.2m0.8 0h3.2m0.8 0h2.2m0.8 0h1.2m1.8 0h1.2m10.8 0h1.2M80.9 625h2.2m0.8 0h2.2m1.8 0h2.2m0.8 0h9.2m0.8 0h9.2m0.8 0h3.2m0.8 0h2.2m1.8 0h3.2m0.8 0h1.2m1.8 0h2.2m0.8 0h1.2m5.8 0h2.2m3.8 0h1.2m11.8 0h1.2M80.9 626h3.2m0.8 0h1.2m1.8 0h4.2m0.8 0h8.2m0.8 0h7.2m0.8 0h1.2m0.8 0h3.2m5.8 0h1.2m0.8 0h1.2m6.8 0h1.2m3.8 0h1.2m1.8 0h1.2m1.8 0h1.2m21.8 0h1.2M80.9 627h3.2m0.8 0h1.2m0.8 0h2.2m0.8 0h9.2m0.8 0h19.2m0.8 0h2.2m1.8 0h1.2m8.8 0h2.2m1.8 0h2.2M78.9 628h4.2m2.8 0h3.2m1.8 0h17.2m0.8 0h1.2m0.8 0h4.2m3.8 0h1.2m0.8 0h1.2m0.8 0h1.2m3.8 0h1.2m2.8 0h2.2m2.8 0h1.2M78.9 629h2.2m1.8 0h3.2m2.8 0h2.2m1.8 0h1.2m1.8 0h13.2m0.8 0h6.2m2.8 0h2.2m1.8 0h1.2m3.8 0h1.2m1.8 0h1.2m0.8 0h1.2m0.8 0h1.2m24.8 0h1.2M78.9 630h2.2m2.8 0h23.2m0.8 0h7.2m0.8 0h2.2m0.8 0h2.2m1.8 0h1.2m0.8 0h1.2m1.8 0h1.2m3.8 0h2.2m4.8 0h1.2m6.8 0h1.2m3.8 0h1.2M83.9 631h28.2m3.8 0h1.2m1.8 0h1.2m0.8 0h3.2m15.8 0h1.2m2.8 0h2.2m7.8 0h1.2M78.9 632h3.2m0.8 0h1.2m0.8 0h13.2m0.8 0h3.2m0.8 0h4.2m0.8 0h5.2m0.8 0h2.2m2.8 0h1.2m1.8 0h3.2m0.8 0h1.2m1.8 0h1.2m1.8 0h1.2M78.9 633h2.2m0.8 0h4.2m0.8 0h1.2m0.8 0h1.2m0.8 0h21.2m1.8 0h1.2m0.8 0h1.2m1.8 0h1.2m3.8 0h4.2m12.8 0h1.2m9.8 0h1.2m1.8 0h1.2M79.9 634h1.2m0.8 0h1.2m0.8 0h23.2m0.8 0h6.2m1.8 0h1.2m0.8 0h1.2m1.8 0h1.2m1.8 0h1.2m3.8 0h1.2m5.8 0h1.2M78.9 635h1.2m0.8 0h1.2m0.8 0h1.2m1.8 0h1.2m1.8 0h24.2m3.8 0h1.2m0.8 0h1.2m0.8 0h1.2m1.8 0h1.2m8.8 0h1.2m5.8 0h1.2m1.8 0h2.2m0.8 0h1.2M79.9 636h2.2m0.8 0h28.2m1.8 0h1.2m9.8 0h1.2m0.8 0h2.2m17.8 0h1.2M78.9 637h2.2m0.8 0h29.2m1.8 0h2.2m8.8 0h1.2m8.8 0h1.2m15.8 0h1.2m6.8 0h1.2M78.9 638h2.2m0.8 0h1.2m0.8 0h25.2m1.8 0h3.2m0.8 0h1.2m0.8 0h3.2m0.8 0h1.2m5.8 0h2.2m10.8 0h1.2M79.9 639h1.2m1.8 0h3.2m0.8 0h26.2m0.8 0h1.2m4.8 0h2.2m4.8 0h1.2m5.8 0h1.2m0.8 0h1.2m2.8 0h1.2M80.9 640h2.2m0.8 0h25.2m0.8 0h3.2m1.8 0h1.2m22.8 0h1.2m3.8 0h2.2m7.8 0h1.2M78.9 641h1.2m0.8 0h3.2m0.8 0h1.2m0.8 0h2.2m0.8 0h21.2m0.8 0h4.2m1.8 0h2.2m3.8 0h1.2m2.8 0h1.2m7.8 0h1.2m2.8 0h1.2M79.9 642h2.2m0.8 0h1.2m0.8 0h3.2m0.8 0h15.2m0.8 0h9.2m0.8 0h3.2m1.8 0h3.2m0.8 0h2.2m10.8 0h1.2m9.8 0h1.2m35.8 0h1.2M78.9 643h1.2m1.8 0h26.2m0.8 0h2.2m0.8 0h1.2m0.8 0h2.2m2.8 0h1.2m0.8 0h2.2m0.8 0h1.2m13.8 0h1.2m4.8 0h1.2m24.8 0h1.2m3.8 0h1.2M81.9 644h1.2m0.8 0h1.2m1.8 0h1.2m0.8 0h5.2m0.8 0h10.2m0.8 0h7.2m1.8 0h2.2m3.8 0h1.2m28.8 0h1.2M79.9 645h2.2m1.8 0h1.2m0.8 0h7.2m0.8 0h9.2m0.8 0h5.2m0.8 0h2.2m2.8 0h1.2m0.8 0h1.2m1.8 0h1.2m0.8 0h3.2m5.8 0h1.2M78.9 646h2.2m2.8 0h1.2m0.8 0h4.2m0.8 0h17.2m0.8 0h1.2m1.8 0h6.2m0.8 0h1.2m9.8 0h1.2m0.8 0h1.2m8.8 0h1.2m4.8 0h1.2M81.9 647h2.2m0.8 0h1.2m0.8 0h6.2m0.8 0h12.2m0.8 0h1.2m0.8 0h5.2m0.8 0h3.2m4.8 0h1.2m2.8 0h1.2M79.9 648h1.2m1.8 0h1.2m3.8 0h2.2m0.8 0h3.2m0.8 0h6.2m0.8 0h3.2m0.8 0h3.2m2.8 0h2.2m0.8 0h4.2m14.8 0h1.2m11.8 0h1.2m33.8 0h1.2M80.9 649h1.2m0.8 0h2.2m0.8 0h1.2m0.8 0h2.2m2.8 0h3.2m0.8 0h5.2m0.8 0h5.2m0.8 0h2.2m0.8 0h1.2m2.8 0h1.2m0.8 0h1.2m3.8 0h1.2m0.8 0h2.2m3.8 0h1.2m12.8 0h1.2m1.8 0h1.2M82.9 650h4.2m1.8 0h2.2m0.8 0h1.2m0.8 0h5.2m0.8 0h5.2m0.8 0h4.2m4.8 0h1.2m0.8 0h1.2m0.8 0h1.2m12.8 0h1.2M81.9 651h1.2m1.8 0h3.2m0.8 0h3.2m1.8 0h2.2m0.8 0h1.2m1.8 0h2.2m0.8 0h2.2m0.8 0h1.2m0.8 0h1.2m0.8 0h1.2m0.8 0h3.2m0.8 0h1.2m0.8 0h1.2m4.8 0h1.2M78.9 652h1.2m2.8 0h1.2m0.8 0h3.2m0.8 0h1.2m1.8 0h1.2m2.8 0h1.2m0.8 0h2.2m0.8 0h1.2m0.8 0h1.2m0.8 0h3.2m0.8 0h3.2m3.8 0h1.2m0.8 0h2.2m9.8 0h1.2m12.8 0h1.2M80.9 653h2.2m4.8 0h1.2m1.8 0h2.2m2.8 0h2.2m0.8 0h1.2m0.8 0h1.2m3.8 0h1.2m0.8 0h2.2m3.8 0h1.2m0.8 0h1.2m22.8 0h1.2M78.9 654h1.2m2.8 0h1.2m6.8 0h2.2m1.8 0h1.2m0.8 0h2.2m0.8 0h1.2m1.8 0h1.2m0.8 0h3.2m2.8 0h1.2m2.8 0h1.2m4.8 0h1.2m53.8 0h1.2M78.9 655h2.2m2.8 0h1.2m0.8 0h1.2m5.8 0h2.2m0.8 0h2.2m2.8 0h2.2m0.8 0h2.2m0.8 0h4.2m4.8 0h1.2m6.8 0h1.2m2.8 0h1.2m0.8 0h1.2m6.8 0h1.2M79.9 656h2.2m1.8 0h2.2m0.8 0h4.2m0.8 0h1.2m7.8 0h1.2m3.8 0h2.2m4.8 0h1.2m0.8 0h1.2m1.8 0h1.2M79.9 657h1.2m0.8 0h1.2m5.8 0h1.2m7.8 0h2.2m1.8 0h1.2m1.8 0h3.2m1.8 0h1.2m5.8 0h1.2m3.8 0h2.2m42.8 0h1.2" stroke="#111" stroke-width="1.2" fill="none"/>
<rect x="78.7" y="549.6" width="108.60000000000001" height="109.19999999999993" fill="none" stroke="#111" stroke-width="1.5"/>
<path d="M88.6,551.4H184.5V587.8H88.6Z M132,551.4V587.8" fill="none" stroke="#1a1a1a" stroke-width="1.2"/>
<path d="M78.7,658.8v3.5M78.7,658.8h-3.5" stroke="#111" stroke-width="1.2"/>
<text x="79.2" y="669.3" font-size="5.5" font-weight="bold" text-anchor="middle" stroke="#111" stroke-width="0.3">10<tspan font-size="4" dy="-2">0</tspan></text>
<text x="71.9" y="660.1" font-size="5.5" font-weight="bold" text-anchor="end" stroke="#111" stroke-width="0.3">10<tspan font-size="4" dy="-2">0</tspan></text>
<path d="M105.9,658.8v3.5M78.7,631.5h-3.5" stroke="#111" stroke-width="1.2"/>
<text x="106.4" y="669.3" font-size="5.5" font-weight="bold" text-anchor="middle" stroke="#111" stroke-width="0.3">10<tspan font-size="4" dy="-2">1</tspan></text>
<text x="71.9" y="632.8" font-size="5.5" font-weight="bold" text-anchor="end" stroke="#111" stroke-width="0.3">10<tspan font-size="4" dy="-2">1</tspan></text>
<path d="M133.0,658.8v3.5M78.7,604.2h-3.5" stroke="#111" stroke-width="1.2"/>
<text x="133.5" y="669.3" font-size="5.5" font-weight="bold" text-anchor="middle" stroke="#111" stroke-width="0.3">10<tspan font-size="4" dy="-2">2</tspan></text>
<text x="71.9" y="605.5" font-size="5.5" font-weight="bold" text-anchor="end" stroke="#111" stroke-width="0.3">10<tspan font-size="4" dy="-2">2</tspan></text>
<path d="M160.2,658.8v3.5M78.7,576.9h-3.5" stroke="#111" stroke-width="1.2"/>
<text x="160.7" y="669.3" font-size="5.5" font-weight="bold" text-anchor="middle" stroke="#111" stroke-width="0.3">10<tspan font-size="4" dy="-2">3</tspan></text>
<text x="71.9" y="578.2" font-size="5.5" font-weight="bold" text-anchor="end" stroke="#111" stroke-width="0.3">10<tspan font-size="4" dy="-2">3</tspan></text>
<path d="M187.3,658.8v3.5M78.7,549.6h-3.5" stroke="#111" stroke-width="1.2"/>
<text x="187.8" y="669.3" font-size="5.5" font-weight="bold" text-anchor="middle" stroke="#111" stroke-width="0.3">10<tspan font-size="4" dy="-2">4</tspan></text>
<text x="71.9" y="550.9" font-size="5.5" font-weight="bold" text-anchor="end" stroke="#111" stroke-width="0.3">10<tspan font-size="4" dy="-2">4</tspan></text>
<text x="102.3" y="693.4" font-size="10.8" font-weight="bold" textLength="12.8" lengthAdjust="spacingAndGlyphs">R1</text>
<text x="149.7" y="693.4" font-size="10.8" font-weight="bold" textLength="13.6" lengthAdjust="spacingAndGlyphs">R2</text>
<text x="136.3" y="831.2" font-size="13" font-weight="bold" text-anchor="middle" >EGFP</text>
<text transform="translate(55.5,750.8) rotate(-90)" font-size="12" font-weight="bold" text-anchor="middle">Gr-1</text>
<path transform="translate(0,0.5)" d="M107.9 696h1.2m6.8 0h1.2m18.8 0h1.2m12.8 0h1.2m1.8 0h1.2m3.8 0h1.2m0.8 0h3.2M89.9 697h1.2m6.8 0h3.2m0.8 0h2.2m0.8 0h1.2m3.8 0h1.2m0.8 0h1.2m0.8 0h2.2m0.8 0h1.2m3.8 0h1.2m1.8 0h1.2m4.8 0h1.2m7.8 0h1.2m1.8 0h28.2m0.8 0h1.2m4.8 0h1.2M89.9 698h1.2m2.8 0h2.2m3.8 0h1.2m0.8 0h1.2m5.8 0h2.2m0.8 0h2.2m0.8 0h2.2m0.8 0h3.2m0.8 0h3.2m8.8 0h1.2m0.8 0h1.2m2.8 0h1.2m0.8 0h31.2m2.8 0h1.2M79.9 699h1.2m2.8 0h2.2m7.8 0h1.2m0.8 0h2.2m1.8 0h1.2m0.8 0h1.2m0.8 0h2.2m1.8 0h3.2m0.8 0h3.2m1.8 0h4.2m3.8 0h1.2m0.8 0h1.2m1.8 0h1.2m0.8 0h1.2m4.8 0h2.2m2.8 0h30.2M83.9 700h1.2m3.8 0h1.2m2.8 0h2.2m0.8 0h4.2m0.8 0h2.2m0.8 0h1.2m0.8 0h2.2m1.8 0h2.2m0.8 0h1.2m0.8 0h2.2m2.8 0h1.2m4.8 0h1.2m9.8 0h1.2m2.8 0h31.2m1.8 0h1.2m0.8 0h1.2M87.9 701h1.2m1.8 0h1.2m1.8 0h1.2m2.8 0h9.2m0.8 0h1.2m0.8 0h7.2m0.8 0h1.2m0.8 0h1.2m1.8 0h2.2m0.8 0h1.2m1.8 0h1.2m4.8 0h1.2m0.8 0h1.2m0.8 0h2.2m0.8 0h28.2m1.8 0h2.2m0.8 0h1.2M87.9 702h1.2m3.8 0h1.2m0.8 0h1.2m3.8 0h4.2m0.8 0h16.2m0.8 0h2.2m6.8 0h1.2m0.8 0h1.2m0.8 0h1.2m0.8 0h1.2m0.8 0h27.2m0.8 0h2.2m0.8 0h2.2m2.8 0h1.2m4.8 0h1.2M77.9 703h1.2m14.8 0h1.2m0.8 0h1.2m1.8 0h2.2m0.8 0h3.2m1.8 0h10.2m1.8 0h1.2m7.8 0h1.2m1.8 0h1.2m7.8 0h2.2m1.8 0h3.2m0.8 0h12.2m0.8 0h5.2m0.8 0h2.2m1.8 0h3.2m0.8 0h2.2M82.9 704h1.2m1.8 0h1.2m1.8 0h1.2m4.8 0h1.2m0.8 0h2.2m2.8 0h2.2m1.8 0h3.2m0.8 0h2.2m0.8 0h3.2m0.8 0h2.2m2.8 0h1.2m1.8 0h1.2m1.8 0h1.2m4.8 0h2.2m8.8 0h1.2m1.8 0h2.2m0.8 0h19.2m4.8 0h1.2M90.9 705h1.2m1.8 0h1.2m0.8 0h8.2m0.8 0h1.2m0.8 0h5.2m0.8 0h3.2m0.8 0h6.2m2.8 0h2.2m0.8 0h1.2m11.8 0h1.2m3.8 0h1.2m3.8 0h1.2m2.8 0h14.2m1.8 0h1.2m3.8 0h1.2m2.8 0h1.2M86.9 706h1.2m3.8 0h1.2m2.8 0h4.2m0.8 0h1.2m0.8 0h3.2m0.8 0h4.2m0.8 0h2.2m0.8 0h5.2m0.8 0h1.2m1.8 0h1.2m0.8 0h1.2m2.8 0h1.2m0.8 0h2.2m9.8 0h3.2m6.8 0h6.2m0.8 0h15.2M77.9 707h1.2m3.8 0h1.2m1.8 0h1.2m0.8 0h1.2m1.8 0h1.2m2.8 0h1.2m1.8 0h7.2m0.8 0h9.2m0.8 0h4.2m0.8 0h3.2m0.8 0h1.2m1.8 0h1.2m0.8 0h3.2m0.8 0h1.2m4.8 0h1.2m2.8 0h1.2m0.8 0h1.2m0.8 0h1.2m0.8 0h1.2m0.8 0h4.2m0.8 0h6.2m0.8 0h5.2m0.8 0h1.2m0.8 0h1.2m3.8 0h1.2M86.9 708h2.2m1.8 0h1.2m2.8 0h1.2m0.8 0h8.2m0.8 0h2.2m0.8 0h3.2m0.8 0h3.2m0.8 0h4.2m0.8 0h3.2m0.8 0h2.2m1.8 0h1.2m1.8 0h1.2m0.8 0h1.2m3.8 0h3.2m0.8 0h1.2m1.8 0h1.2m0.8 0h1.2m1.8 0h1.2m0.8 0h5.2m0.8 0h3.2m0.8 0h2.2m1.8 0h4.2m0.8 0h2.2m1.8 0h1.2M83.9 709h1.2m0.8 0h1.2m9.8 0h2.2m0.8 0h2.2m0.8 0h3.2m0.8 0h2.2m0.8 0h14.2m0.8 0h5.2m3.8 0h1.2m0.8 0h1.2m0.8 0h1.2m8.8 0h2.2m0.8 0h11.2m1.8 0h4.2m0.8 0h1.2m7.8 0h1.2m0.8 0h1.2M83.9 710h1.2m3.8 0h2.2m2.8 0h1.2m1.8 0h1.2m0.8 0h1.2m0.8 0h10.2m0.8 0h3.2m0.8 0h5.2m0.8 0h5.2m2.8 0h1.2m6.8 0h1.2m1.8 0h1.2m3.8 0h1.2m0.8 0h1.2m2.8 0h3.2m0.8 0h3.2m0.8 0h2.2m0.8 0h9.2m3.8 0h1.2m4.8 0h1.2M80.9 711h1.2m10.8 0h1.2m2.8 0h2.2m1.8 0h3.2m1.8 0h6.2m0.8 0h8.2m0.8 0h3.2m2.8 0h1.2m0.8 0h2.2m0.8 0h2.2m9.8 0h1.2m0.8 0h1.2m0.8 0h2.2m0.8 0h6.2m2.8 0h11.2M87.9 712h1.2m2.8 0h1.2m1.8 0h3.2m0.8 0h4.2m0.8 0h12.2m0.8 0h3.2m0.8 0h1.2m1.8 0h1.2m1.8 0h1.2m0.8 0h1.2m7.8 0h1.2m0.8 0h2.2m0.8 0h1.2m0.8 0h2.2m1.8 0h13.2m1.8 0h4.2m0.8 0h1.2m0.8 0h1.2m1.8 0h1.2m1.8 0h1.2M88.9 713h4.2m0.8 0h1.2m1.8 0h2.2m1.8 0h13.2m1.8 0h6.2m0.8 0h1.2m1.8 0h2.2m4.8 0h1.2m6.8 0h1.2m0.8 0h3.2m0.8 0h1.2m1.8 0h13.2m1.8 0h2.2m2.8 0h1.2m0.8 0h2.2m8.8 0h1.2M79.9 714h1.2m4.8 0h1.2m2.8 0h1.2m1.8 0h1.2m0.8 0h4.2m0.8 0h5.2m1.8 0h1.2m0.8 0h11.2m1.8 0h1.2m0.8 0h2.2m0.8 0h1.2m1.8 0h3.2m1.8 0h2.2m4.8 0h2.2m1.8 0h1.2m2.8 0h8.2m0.8 0h3.2m1.8 0h2.2m0.8 0h3.2m1.8 0h1.2m6.8 0h1.2M78.9 715h1.2m12.8 0h2.2m3.8 0h5.2m0.8 0h16.2m0.8 0h1.2m1.8 0h2.2m1.8 0h4.2m0.8 0h1.2m4.8 0h1.2m0.8 0h2.2m0.8 0h1.2m2.8 0h3.2m2.8 0h3.2m0.8 0h1.2m0.8 0h3.2m0.8 0h1.2m0.8 0h2.2m1.8 0h1.2M88.9 716h1.2m1.8 0h1.2m2.8 0h1.2m0.8 0h1.2m0.8 0h1.2m0.8 0h18.2m0.8 0h1.2m1.8 0h3.2m8.8 0h1.2m7.8 0h3.2m1.8 0h4.2m2.8 0h1.2m0.8 0h6.2m1.8 0h3.2m0.8 0h2.2m2.8 0h2.2M95.9 717h2.2m1.8 0h2.2m0.8 0h4.2m0.8 0h6.2m0.8 0h1.2m0.8 0h4.2m0.8 0h1.2m1.8 0h1.2m0.8 0h2.2m0.8 0h1.2m5.8 0h2.2m2.8 0h1.2m1.8 0h6.2m0.8 0h6.2m0.8 0h3.2m0.8 0h2.2m0.8 0h1.2m0.8 0h1.2m3.8 0h1.2M80.9 718h1.2m3.8 0h1.2m1.8 0h1.2m0.8 0h1.2m0.8 0h1.2m2.8 0h8.2m0.8 0h14.2m0.8 0h1.2m1.8 0h1.2m4.8 0h3.2m6.8 0h3.2m0.8 0h3.2m0.8 0h1.2m0.8 0h4.2m3.8 0h1.2m6.8 0h2.2m2.8 0h2.2m0.8 0h1.2M84.9 719h1.2m4.8 0h2.2m1.8 0h3.2m1.8 0h1.2m0.8 0h2.2m0.8 0h10.2m0.8 0h5.2m4.8 0h1.2m4.8 0h1.2m0.8 0h1.2m4.8 0h6.2m0.8 0h9.2m0.8 0h5.2m2.8 0h1.2M80.9 720h2.2m0.8 0h2.2m4.8 0h1.2m2.8 0h7.2m0.8 0h1.2m0.8 0h6.2m0.8 0h1.2m0.8 0h1.2m0.8 0h2.2m0.8 0h1.2m3.8 0h1.2m2.8 0h2.2m10.8 0h1.2m1.8 0h8.2m0.8 0h2.2m0.8 0h3.2m2.8 0h1.2m3.8 0h3.2M77.9 721h1.2m6.8 0h1.2m4.8 0h2.2m0.8 0h1.2m2.8 0h1.2m1.8 0h9.2m0.8 0h7.2m0.8 0h2.2m2.8 0h3.2m0.8 0h1.2m0.8 0h1.2m0.8 0h2.2m0.8 0h1.2m2.8 0h2.2m1.8 0h2.2m0.8 0h6.2m0.8 0h1.2m0.8 0h6.2M80.9 722h1.2m5.8 0h1.2m5.8 0h5.2m0.8 0h17.2m0.8 0h1.2m0.8 0h3.2m1.8 0h1.2m0.8 0h1.2m0.8 0h1.2m3.8 0h1.2m2.8 0h1.2m0.8 0h5.2m0.8 0h1.2m0.8 0h1.2m2.8 0h2.2m0.8 0h1.2M77.9 723h1.2m0.8 0h1.2m1.8 0h1.2m2.8 0h1.2m3.8 0h1.2m0.8 0h4.2m0.8 0h1.2m0.8 0h4.2m0.8 0h13.2m1.8 0h1.2m1.8 0h1.2m2.8 0h2.2m1.8 0h1.2m2.8 0h1.2m1.8 0h5.2m0.8 0h7.2m1.8 0h3.2m0.8 0h2.2m3.8 0h1.2m11.8 0h1.2M78.9 724h1.2m8.8 0h1.2m2.8 0h1.2m2.8 0h2.2m0.8 0h1.2m0.8 0h1.2m0.8 0h11.2m3.8 0h4.2m0.8 0h1.2m1.8 0h1.2m2.8 0h1.2m2.8 0h4.2m0.8 0h3.2m1.8 0h2.2m0.8 0h2.2m2.8 0h2.2m1.8 0h1.2m0.8 0h2.2m2.8 0h1.2M78.9 725h1.2m7.8 0h1.2m0.8 0h1.2m4.8 0h2.2m0.8 0h2.2m0.8 0h2.2m0.8 0h9.2m0.8 0h4.2m0.8 0h1.2m0.8 0h1.2m1.8 0h1.2m5.8 0h1.2m3.8 0h3.2m0.8 0h1.2m0.8 0h3.2m1.8 0h5.2m0.8 0h4.2m0.8 0h2.2m0.8 0h1.2M77.9 726h1.2m0.8 0h1.2m7.8 0h1.2m0.8 0h1.2m2.8 0h1.2m0.8 0h1.2m0.8 0h1.2m1.8 0h1.2m1.8 0h2.2m0.8 0h1.2m0.8 0h2.2m0.8 0h1.2m0.8 0h6.2m0.8 0h2.2m1.8 0h3.2m2.8 0h3.2m1.8 0h1.2m1.8 0h4.2m1.8 0h4.2m0.8 0h2.2m1.8 0h2.2m0.8 0h1.2m0.8 0h1.2M80.9 727h1.2m3.8 0h1.2m3.8 0h1.2m0.8 0h3.2m0.8 0h1.2m1.8 0h2.2m0.8 0h6.2m0.8 0h3.2m0.8 0h6.2m0.8 0h1.2m3.8 0h3.2m0.8 0h1.2m5.8 0h3.2m3.8 0h2.2m1.8 0h3.2m0.8 0h5.2m1.8 0h1.2m0.8 0h1.2M82.9 728h1.2m2.8 0h1.2m8.8 0h1.2m0.8 0h1.2m0.8 0h9.2m0.8 0h2.2m0.8 0h1.2m1.8 0h3.2m2.8 0h1.2m4.8 0h3.2m0.8 0h2.2m6.8 0h2.2m0.8 0h3.2m1.8 0h5.2m5.8 0h1.2M78.9 729h1.2m1.8 0h1.2m1.8 0h1.2m0.8 0h1.2m5.8 0h1.2m3.8 0h3.2m0.8 0h1.2m0.8 0h2.2m0.8 0h1.2m0.8 0h1.2m0.8 0h2.2m0.8 0h1.2m0.8 0h2.2m1.8 0h2.2m0.8 0h3.2m3.8 0h2.2m0.8 0h1.2m1.8 0h13.2m0.8 0h2.2m0.8 0h1.2m3.8 0h1.2m2.8 0h1.2M79.9 730h1.2m1.8 0h1.2m0.8 0h1.2m0.8 0h1.2m5.8 0h1.2m1.8 0h1.2m2.8 0h1.2m0.8 0h2.2m0.8 0h1.2m0.8 0h6.2m0.8 0h4.2m2.8 0h1.2m2.8 0h1.2m2.8 0h1.2m4.8 0h1.2m1.8 0h3.2m0.8 0h1.2m0.8 0h1.2m1.8 0h1.2m1.8 0h2.2m0.8 0h1.2M78.9 731h1.2m5.8 0h1.2m4.8 0h1.2m0.8 0h1.2m1.8 0h1.2m1.8 0h4.2m1.8 0h7.2m0.8 0h2.2m0.8 0h1.2m0.8 0h3.2m1.8 0h1.2m0.8 0h1.2m1.8 0h1.2m1.8 0h1.2m1.8 0h4.2m1.8 0h3.2m0.8 0h3.2m2.8 0h2.2m0.8 0h1.2m0.8 0h1.2m1.8 0h1.2m4.8 0h1.2M78.9 732h1.2m3.8 0h1.2m1.8 0h1.2m0.8 0h2.2m0.8 0h1.2m8.8 0h2.2m0.8 0h2.2m1.8 0h1.2m0.8 0h3.2m0.8 0h1.2m2.8 0h1.2m9.8 0h2.2m3.8 0h1.2m1.8 0h1.2m0.8 0h1.2m3.8 0h1.2m0.8 0h4.2m0.8 0h2.2m1.8 0h1.2m0.8 0h1.2M80.9 733h2.2m2.8 0h1.2m0.8 0h2.2m1.8 0h1.2m2.8 0h3.2m1.8 0h1.2m1.8 0h3.2m0.8 0h3.2m0.8 0h5.2m2.8 0h1.2m0.8 0h1.2m1.8 0h1.2m0.8 0h1.2m2.8 0h1.2m0.8 0h1.2m0.8 0h2.2m0.8 0h2.2m0.8 0h6.2m0.8 0h2.2m2.8 0h1.2m0.8 0h1.2m0.8 0h1.2M83.9 734h1.2m2.8 0h1.2m4.8 0h1.2m6.8 0h10.2m0.8 0h1.2m0.8 0h1.2m0.8 0h2.2m14.8 0h2.2m2.8 0h2.2m0.8 0h1.2m0.8 0h7.2m2.8 0h3.2m2.8 0h1.2m2.8 0h1.2M82.9 735h1.2m6.8 0h1.2m2.8 0h2.2m0.8 0h1.2m4.8 0h3.2m0.8 0h2.2m0.8 0h6.2m0.8 0h2.2m0.8 0h2.2m1.8 0h1.2m0.8 0h2.2m2.8 0h1.2m0.8 0h1.2m0.8 0h1.2m1.8 0h1.2m1.8 0h2.2m0.8 0h3.2m1.8 0h1.2m0.8 0h1.2m0.8 0h2.2m4.8 0h1.2M80.9 736h2.2m4.8 0h1.2m0.8 0h1.2m6.8 0h1.2m1.8 0h1.2m2.8 0h8.2m0.8 0h3.2m1.8 0h1.2m6.8 0h1.2m6.8 0h1.2m0.8 0h1.2m0.8 0h3.2m0.8 0h2.2m1.8 0h5.2m4.8 0h2.2m6.8 0h1.2M78.9 737h2.2m6.8 0h1.2m3.8 0h1.2m7.8 0h1.2m1.8 0h1.2m0.8 0h6.2m0.8 0h4.2m19.8 0h6.2m0.8 0h2.2m1.8 0h3.2m0.8 0h1.2m0.8 0h1.2m2.8 0h1.2M78.9 738h2.2m0.8 0h1.2m15.8 0h3.2m1.8 0h2.2m0.8 0h3.2m0.8 0h3.2m0.8 0h1.2m0.8 0h1.2m0.8 0h1.2m2.8 0h2.2m2.8 0h2.2m8.8 0h1.2m0.8 0h1.2m2.8 0h3.2m0.8 0h1.2m0.8 0h1.2m2.8 0h1.2M78.9 739h1.2m1.8 0h1.2m6.8 0h1.2m2.8 0h1.2m2.8 0h2.2m1.8 0h2.2m0.8 0h3.2m0.8 0h7.2m6.8 0h1.2m0.8 0h2.2m1.8 0h3.2m0.8 0h2.2m0.8 0h1.2m3.8 0h2.2m0.8 0h2.2m0.8 0h2.2m1.8 0h1.2m0.8 0h1.2m0.8 0h2.2M81.9 740h1.2m4.8 0h1.2m0.8 0h1.2m4.8 0h1.2m1.8 0h1.2m4.8 0h1.2m1.8 0h3.2m0.8 0h3.2m0.8 0h2.2m0.8 0h1.2m0.8 0h1.2m0.8 0h1.2m1.8 0h2.2m0.8 0h1.2m1.8 0h2.2m3.8 0h3.2m0.8 0h1.2m0.8 0h2.2m1.8 0h2.2m5.8 0h2.2m0.8 0h1.2m4.8 0h1.2M84.9 741h1.2m13.8 0h1.2m3.8 0h1.2m0.8 0h2.2m2.8 0h4.2m2.8 0h1.2m1.8 0h3.2m2.8 0h1.2m1.8 0h1.2m3.8 0h1.2m3.8 0h3.2m1.8 0h1.2m1.8 0h1.2m3.8 0h1.2m0.8 0h1.2m0.8 0h1.2m8.8 0h1.2m14.8 0h1.2M85.9 742h1.2m3.8 0h1.2m2.8 0h3.2m0.8 0h1.2m2.8 0h10.2m0.8 0h2.2m0.8 0h1.2m1.8 0h3.2m3.8 0h1.2m2.8 0h1.2m7.8 0h2.2m0.8 0h2.2m0.8 0h1.2m0.8 0h1.2m3.8 0h1.2m4.8 0h1.2m0.8 0h1.2m9.8 0h1.2M90.9 743h1.2m0.8 0h1.2m11.8 0h5.2m1.8 0h4.2m0.8 0h3.2m0.8 0h1.2m5.8 0h1.2m0.8 0h1.2m5.8 0h1.2m1.8 0h1.2m1.8 0h3.2m0.8 0h9.2m1.8 0h1.2m0.8 0h1.2M77.9 744h1.2m0.8 0h2.2m1.8 0h2.2m10.8 0h1.2m3.8 0h3.2m0.8 0h3.2m0.8 0h7.2m17.8 0h2.2m2.8 0h2.2m2.8 0h1.2m0.8 0h2.2m0.8 0h1.2m0.8 0h1.2m3.8 0h4.2m3.8 0h1.2m6.8 0h1.2M78.9 745h2.2m0.8 0h2.2m1.8 0h1.2m0.8 0h2.2m9.8 0h1.2m3.8 0h4.2m0.8 0h3.2m3.8 0h5.2m5.8 0h1.2m1.8 0h1.2m3.8 0h2.2m3.8 0h3.2m0.8 0h1.2m6.8 0h2.2M77.9 746h2.2m0.8 0h2.2m3.8 0h1.2m2.8 0h1.2m6.8 0h1.2m3.8 0h1.2m0.8 0h1.2m0.8 0h1.2m0.8 0h3.2m0.8 0h1.2m2.8 0h2.2m2.8 0h2.2m4.8 0h2.2m1.8 0h1.2m2.8 0h1.2m2.8 0h1.2m0.8 0h1.2m1.8 0h3.2m3.8 0h1.2m3.8 0h1.2M77.9 747h1.2m7.8 0h1.2m2.8 0h1.2m8.8 0h13.2m0.8 0h3.2m8.8 0h1.2m3.8 0h1.2m1.8 0h1.2m3.8 0h4.2m1.8 0h2.2m1.8 0h1.2m0.8 0h1.2m2.8 0h1.2m0.8 0h2.2M78.9 748h1.2m1.8 0h1.2m2.8 0h1.2m0.8 0h1.2m13.8 0h1.2m0.8 0h8.2m0.8 0h4.2m1.8 0h1.2m6.8 0h1.2m0.8 0h1.2m1.8 0h1.2m0.8 0h1.2m4.8 0h1.2m4.8 0h1.2m0.8 0h1.2m0.8 0h1.2m1.8 0h2.2m0.8 0h1.2M82.9 749h1.2m3.8 0h1.2m7.8 0h1.2m3.8 0h5.2m0.8 0h1.2m0.8 0h1.2m1.8 0h1.2m4.8 0h2.2m13.8 0h1.2m0.8 0h1.2m0.8 0h2.2m0.8 0h1.2m1.8 0h1.2m0.8 0h1.2m0.8 0h5.2m2.8 0h1.2m0.8 0h1.2m0.8 0h1.2M83.9 750h2.2m1.8 0h2.2m4.8 0h1.2m5.8 0h1.2m0.8 0h1.2m0.8 0h2.2m0.8 0h2.2m1.8 0h1.2m0.8 0h2.2m1.8 0h2.2m0.8 0h1.2m0.8 0h1.2m1.8 0h2.2m3.8 0h1.2m3.8 0h1.2m0.8 0h3.2m2.8 0h1.2m1.8 0h1.2m0.8 0h3.2m0.8 0h2.2m0.8 0h1.2M77.9 751h1.2m3.8 0h1.2m12.8 0h1.2m0.8 0h1.2m4.8 0h1.2m0.8 0h5.2m0.8 0h1.2m0.8 0h1.2m2.8 0h1.2m0.8 0h1.2m0.8 0h2.2m1.8 0h1.2m7.8 0h1.2m0.8 0h1.2m1.8 0h2.2m1.8 0h1.2m0.8 0h1.2m7.8 0h2.2m2.8 0h1.2m7.8 0h1.2M77.9 752h1.2m5.8 0h1.2m10.8 0h1.2m0.8 0h1.2m1.8 0h3.2m0.8 0h1.2m0.8 0h1.2m0.8 0h4.2m2.8 0h2.2m5.8 0h2.2m1.8 0h1.2m1.8 0h1.2m1.8 0h2.2m2.8 0h1.2m1.8 0h4.2m2.8 0h2.2m1.8 0h2.2M83.9 753h1.2m0.8 0h2.2m3.8 0h1.2m0.8 0h1.2m4.8 0h9.2m0.8 0h5.2m2.8 0h1.2m1.8 0h1.2m11.8 0h3.2m3.8 0h2.2m1.8 0h6.2m0.8 0h4.2m2.8 0h1.2M78.9 754h1.2m0.8 0h1.2m4.8 0h1.2m12.8 0h1.2m1.8 0h5.2m0.8 0h5.2m0.8 0h2.2m1.8 0h1.2m1.8 0h1.2m1.8 0h1.2m0.8 0h2.2m0.8 0h1.2m0.8 0h2.2m6.8 0h2.2m2.8 0h1.2m0.8 0h3.2m1.8 0h1.2m3.8 0h1.2m4.8 0h1.2M96.9 755h1.2m0.8 0h2.2m4.8 0h5.2m2.8 0h1.2m0.8 0h3.2m0.8 0h1.2m11.8 0h3.2m1.8 0h1.2m4.8 0h4.2m0.8 0h1.2m6.8 0h1.2m2.8 0h1.2m18.8 0h1.2M81.9 756h1.2m8.8 0h1.2m5.8 0h1.2m2.8 0h1.2m0.8 0h1.2m0.8 0h4.2m1.8 0h1.2m0.8 0h1.2m0.8 0h2.2m2.8 0h1.2m0.8 0h1.2m5.8 0h1.2m1.8 0h1.2m0.8 0h1.2m2.8 0h2.2m1.8 0h2.2m3.8 0h1.2m2.8 0h1.2m2.8 0h1.2m5.8 0h1.2M83.9 757h1.2m12.8 0h2.2m0.8 0h1.2m0.8 0h2.2m0.8 0h5.2m2.8 0h1.2m2.8 0h2.2m0.8 0h2.2m8.8 0h1.2m0.8 0h1.2m3.8 0h4.2m1.8 0h2.2m5.8 0h1.2m6.8 0h1.2m1.8 0h1.2M79.9 758h5.2m0.8 0h1.2m11.8 0h1.2m3.8 0h3.2m0.8 0h1.2m0.8 0h4.2m1.8 0h4.2m4.8 0h1.2m3.8 0h1.2m3.8 0h1.2m0.8 0h3.2m0.8 0h1.2m1.8 0h1.2m0.8 0h4.2m0.8 0h2.2m4.8 0h1.2M82.9 759h1.2m0.8 0h1.2m1.8 0h1.2m1.8 0h1.2m1.8 0h1.2m0.8 0h1.2m0.8 0h1.2m0.8 0h2.2m1.8 0h1.2m0.8 0h2.2m0.8 0h5.2m0.8 0h2.2m16.8 0h1.2m0.8 0h1.2m1.8 0h1.2m0.8 0h6.2m0.8 0h3.2m0.8 0h5.2m0.8 0h1.2m1.8 0h1.2M86.9 760h1.2m7.8 0h1.2m0.8 0h1.2m0.8 0h1.2m2.8 0h2.2m1.8 0h4.2m0.8 0h2.2m3.8 0h5.2m9.8 0h2.2m1.8 0h1.2m0.8 0h1.2m2.8 0h1.2m0.8 0h1.2m0.8 0h4.2m8.8 0h1.2M77.9 761h1.2m11.8 0h1.2m7.8 0h1.2m0.8 0h1.2m0.8 0h8.2m0.8 0h2.2m2.8 0h1.2m7.8 0h1.2m6.8 0h2.2m0.8 0h1.2m0.8 0h1.2m0.8 0h2.2m0.8 0h5.2m0.8 0h1.2m0.8 0h1.2m2.8 0h2.2M81.9 762h1.2m1.8 0h1.2m5.8 0h1.2m2.8 0h1.2m0.8 0h1.2m1.8 0h1.2m1.8 0h1.2m1.8 0h9.2m1.8 0h1.2m0.8 0h1.2m9.8 0h1.2m4.8 0h3.2m1.8 0h2.2m0.8 0h1.2m2.8 0h1.2m3.8 0h1.2m0.8 0h1.2M81.9 763h1.2m7.8 0h2.2m9.8 0h3.2m0.8 0h1.2m0.8 0h7.2m1.8 0h1.2m1.8 0h1.2m0.8 0h1.2m4.8 0h2.2m0.8 0h2.2m1.8 0h1.2m1.8 0h2.2m0.8 0h1.2m2.8 0h1.2m2.8 0h1.2m4.8 0h3.2M78.9 764h1.2m12.8 0h1.2m1.8 0h1.2m4.8 0h2.2m0.8 0h11.2m2.8 0h1.2m1.8 0h2.2m0.8 0h1.2m0.8 0h2.2m1.8 0h1.2m1.8 0h2.2m3.8 0h1.2m0.8 0h5.2m0.8 0h2.2m0.8 0h1.2m0.8 0h2.2m1.8 0h1.2m1.8 0h1.2m15.8 0h1.2M79.9 765h2.2m0.8 0h1.2m13.8 0h1.2m0.8 0h1.2m0.8 0h2.2m0.8 0h5.2m0.8 0h3.2m2.8 0h2.2m1.8 0h2.2m5.8 0h2.2m4.8 0h1.2m1.8 0h1.2m0.8 0h2.2m5.8 0h1.2m0.8 0h2.2m0.8 0h1.2m2.8 0h1.2m1.8 0h1.2M77.9 766h1.2m6.8 0h1.2m2.8 0h1.2m0.8 0h1.2m9.8 0h1.2m0.8 0h1.2m0.8 0h4.2m0.8 0h1.2m1.8 0h2.2m2.8 0h1.2m0.8 0h1.2m6.8 0h2.2m2.8 0h2.2m0.8 0h1.2m1.8 0h4.2m0.8 0h3.2m7.8 0h1.2m0.8 0h1.2M78.9 767h1.2m4.8 0h2.2m3.8 0h1.2m5.8 0h2.2m1.8 0h2.2m0.8 0h2.2m1.8 0h3.2m0.8 0h1.2m0.8 0h1.2m1.8 0h1.2m0.8 0h1.2m5.8 0h3.2m0.8 0h1.2m0.8 0h2.2m3.8 0h2.2m0.8 0h1.2m0.8 0h1.2m2.8 0h1.2m7.8 0h3.2M77.9 768h1.2m11.8 0h1.2m0.8 0h2.2m2.8 0h2.2m0.8 0h8.2m0.8 0h4.2m0.8 0h2.2m1.8 0h3.2m1.8 0h1.2m9.8 0h1.2m1.8 0h1.2m1.8 0h6.2m0.8 0h4.2m0.8 0h1.2m1.8 0h1.2M86.9 769h1.2m1.8 0h2.2m3.8 0h1.2m0.8 0h2.2m0.8 0h1.2m0.8 0h5.2m0.8 0h1.2m0.8 0h3.2m1.8 0h1.2m0.8 0h1.2m3.8 0h1.2m4.8 0h1.2m0.8 0h1.2m5.8 0h2.2m0.8 0h2.2m0.8 0h1.2m0.8 0h1.2m0.8 0h2.2m3.8 0h1.2M78.9 770h1.2m0.8 0h2.2m7.8 0h1.2m0.8 0h1.2m2.8 0h1.2m0.8 0h1.2m0.8 0h1.2m0.8 0h3.2m0.8 0h7.2m0.8 0h2.2m5.8 0h1.2m3.8 0h1.2m1.8 0h1.2m0.8 0h2.2m0.8 0h1.2m0.8 0h1.2m2.8 0h2.2m0.8 0h1.2m3.8 0h1.2m1.8 0h2.2m1.8 0h3.2m1.8 0h1.2m3.8 0h1.2M82.9 771h1.2m6.8 0h1.2m3.8 0h1.2m0.8 0h4.2m0.8 0h7.2m2.8 0h1.2m5.8 0h1.2m1.8 0h2.2m0.8 0h1.2m3.8 0h2.2m0.8 0h2.2m1.8 0h1.2m0.8 0h6.2m1.8 0h2.2m0.8 0h3.2m0.8 0h1.2m0.8 0h1.2M77.9 772h1.2m2.8 0h1.2m10.8 0h1.2m0.8 0h4.2m2.8 0h5.2m1.8 0h4.2m0.8 0h1.2m17.8 0h3.2m1.8 0h1.2m1.8 0h1.2m2.8 0h1.2m1.8 0h1.2m0.8 0h1.2m0.8 0h2.2M78.9 773h1.2m4.8 0h1.2m10.8 0h1.2m0.8 0h1.2m0.8 0h1.2m1.8 0h1.2m0.8 0h5.2m8.8 0h1.2m2.8 0h1.2m3.8 0h2.2m1.8 0h3.2m1.8 0h1.2m0.8 0h6.2m0.8 0h1.2m1.8 0h6.2m3.8 0h1.2M87.9 774h1.2m4.8 0h1.2m2.8 0h1.2m2.8 0h6.2m1.8 0h6.2m0.8 0h1.2m8.8 0h2.2m3.8 0h2.2m0.8 0h2.2m7.8 0h4.2m0.8 0h1.2m1.8 0h1.2m1.8 0h1.2M79.9 775h1.2m5.8 0h1.2m2.8 0h1.2m1.8 0h1.2m2.8 0h2.2m0.8 0h11.2m0.8 0h1.2m0.8 0h2.2m0.8 0h2.2m4.8 0h2.2m0.8 0h2.2m3.8 0h1.2m0.8 0h1.2m3.8 0h5.2m0.8 0h1.2m5.8 0h2.2m2.8 0h1.2M79.9 776h1.2m1.8 0h1.2m1.8 0h1.2m1.8 0h1.2m1.8 0h2.2m3.8 0h6.2m0.8 0h3.2m0.8 0h1.2m1.8 0h2.2m0.8 0h2.2m1.8 0h1.2m5.8 0h1.2m4.8 0h3.2m3.8 0h1.2m3.8 0h4.2m0.8 0h1.2m1.8 0h1.2m2.8 0h1.2m3.8 0h1.2M77.9 777h1.2m1.8 0h1.2m0.8 0h1.2m1.8 0h1.2m4.8 0h3.2m0.8 0h1.2m1.8 0h1.2m0.8 0h1.2m0.8 0h2.2m0.8 0h4.2m0.8 0h3.2m7.8 0h1.2m1.8 0h1.2m6.8 0h1.2m3.8 0h2.2m1.8 0h1.2m1.8 0h1.2m2.8 0h1.2m2.8 0h1.2m0.8 0h1.2M80.9 778h2.2m0.8 0h1.2m3.8 0h2.2m0.8 0h3.2m0.8 0h2.2m0.8 0h1.2m0.8 0h2.2m0.8 0h6.2m1.8 0h1.2m0.8 0h2.2m11.8 0h1.2m0.8 0h1.2m1.8 0h2.2m3.8 0h1.2m5.8 0h3.2m1.8 0h1.2m2.8 0h1.2m2.8 0h1.2M86.9 779h1.2m0.8 0h1.2m0.8 0h4.2m0.8 0h1.2m0.8 0h2.2m0.8 0h1.2m1.8 0h2.2m0.8 0h2.2m0.8 0h2.2m0.8 0h2.2m3.8 0h2.2m2.8 0h1.2m1.8 0h1.2m4.8 0h1.2m5.8 0h1.2m0.8 0h1.2m1.8 0h5.2m6.8 0h1.2m0.8 0h1.2M82.9 780h1.2m1.8 0h1.2m1.8 0h2.2m0.8 0h1.2m0.8 0h5.2m1.8 0h3.2m1.8 0h1.2m0.8 0h1.2m0.8 0h2.2m5.8 0h1.2m3.8 0h1.2m2.8 0h1.2m2.8 0h1.2m0.8 0h1.2m1.8 0h1.2m0.8 0h1.2m0.8 0h4.2m0.8 0h1.2m0.8 0h2.2m0.8 0h1.2m0.8 0h1.2m1.8 0h1.2M84.9 781h1.2m0.8 0h1.2m3.8 0h1.2m0.8 0h5.2m0.8 0h10.2m1.8 0h1.2m0.8 0h1.2m1.8 0h1.2m2.8 0h1.2m7.8 0h2.2m2.8 0h1.2m1.8 0h7.2m0.8 0h1.2m1.8 0h3.2m8.8 0h1.2m4.8 0h1.2M81.9 782h1.2m2.8 0h1.2m0.8 0h3.2m0.8 0h2.2m0.8 0h4.2m0.8 0h6.2m2.8 0h2.2m0.8 0h1.2m1.8 0h1.2m0.8 0h2.2m2.8 0h1.2m4.8 0h1.2m1.8 0h2.2m0.8 0h2.2m0.8 0h1.2m0.8 0h4.2m1.8 0h1.2m1.8 0h1.2m1.8 0h3.2m10.8 0h1.2m1.8 0h1.2M80.9 783h2.2m4.8 0h1.2m1.8 0h1.2m0.8 0h4.2m0.8 0h5.2m0.8 0h6.2m0.8 0h1.2m1.8 0h2.2m0.8 0h1.2m9.8 0h2.2m0.8 0h2.2m1.8 0h3.2m1.8 0h1.2m4.8 0h1.2m0.8 0h2.2m2.8 0h1.2m0.8 0h3.2m21.8 0h1.2M79.9 784h1.2m0.8 0h1.2m0.8 0h1.2m1.8 0h1.2m2.8 0h2.2m0.8 0h2.2m2.8 0h7.2m3.8 0h7.2m0.8 0h1.2m0.8 0h2.2m0.8 0h1.2m0.8 0h1.2m0.8 0h1.2m0.8 0h1.2m1.8 0h1.2m0.8 0h2.2m0.8 0h1.2m1.8 0h4.2m0.8 0h1.2m1.8 0h1.2m0.8 0h1.2m3.8 0h1.2m0.8 0h1.2m5.8 0h1.2M82.9 785h2.2m1.8 0h1.2m1.8 0h2.2m0.8 0h1.2m0.8 0h7.2m0.8 0h6.2m0.8 0h3.2m1.8 0h2.2m3.8 0h1.2m3.8 0h1.2m3.8 0h1.2m4.8 0h1.2m0.8 0h1.2m0.8 0h2.2m1.8 0h2.2m0.8 0h2.2m1.8 0h3.2m0.8 0h1.2M79.9 786h2.2m1.8 0h1.2m1.8 0h1.2m3.8 0h3.2m0.8 0h3.2m0.8 0h3.2m1.8 0h6.2m2.8 0h1.2m2.8 0h1.2m3.8 0h1.2m2.8 0h2.2m0.8 0h4.2m1.8 0h5.2m0.8 0h3.2m4.8 0h1.2m0.8 0h1.2m12.8 0h1.2M85.9 787h3.2m0.8 0h1.2m3.8 0h7.2m0.8 0h1.2m0.8 0h4.2m0.8 0h1.2m4.8 0h1.2m4.8 0h1.2m0.8 0h1.2m0.8 0h1.2m3.8 0h1.2m0.8 0h2.2m1.8 0h1.2m1.8 0h1.2m1.8 0h1.2m0.8 0h3.2m0.8 0h4.2M80.9 788h1.2m9.8 0h1.2m1.8 0h10.2m0.8 0h2.2m0.8 0h1.2m0.8 0h1.2m12.8 0h1.2m1.8 0h1.2m4.8 0h1.2m0.8 0h4.2m1.8 0h2.2m5.8 0h1.2m1.8 0h2.2m1.8 0h1.2m9.8 0h1.2M86.9 789h2.2m0.8 0h3.2m0.8 0h2.2m0.8 0h1.2m0.8 0h6.2m6.8 0h1.2m0.8 0h1.2m4.8 0h1.2m0.8 0h1.2m1.8 0h1.2m1.8 0h1.2m0.8 0h1.2m1.8 0h3.2m0.8 0h2.2m0.8 0h1.2m0.8 0h1.2m1.8 0h2.2m0.8 0h1.2m3.8 0h2.2m0.8 0h1.2M79.9 790h1.2m1.8 0h1.2m2.8 0h1.2m0.8 0h2.2m1.8 0h1.2m1.8 0h1.2m0.8 0h9.2m4.8 0h1.2m2.8 0h1.2m2.8 0h1.2m4.8 0h2.2m5.8 0h1.2m2.8 0h1.2m0.8 0h1.2m0.8 0h1.2m0.8 0h2.2m0.8 0h3.2m4.8 0h1.2M85.9 791h4.2m0.8 0h1.2m0.8 0h1.2m0.8 0h1.2m0.8 0h1.2m0.8 0h2.2m1.8 0h4.2m0.8 0h2.2m1.8 0h3.2m0.8 0h1.2m0.8 0h1.2m0.8 0h1.2m1.8 0h2.2m2.8 0h1.2m0.8 0h2.2m0.8 0h2.2m1.8 0h1.2m1.8 0h2.2m3.8 0h1.2m3.8 0h2.2m27.8 0h1.2M78.9 792h1.2m1.8 0h1.2m3.8 0h1.2m1.8 0h4.2m0.8 0h1.2m0.8 0h1.2m0.8 0h3.2m14.8 0h2.2m3.8 0h1.2m0.8 0h1.2m6.8 0h2.2m2.8 0h2.2m8.8 0h1.2m1.8 0h1.2m0.8 0h1.2m1.8 0h1.2m0.8 0h1.2M82.9 793h2.2m0.8 0h1.2m2.8 0h3.2m0.8 0h5.2m0.8 0h1.2m1.8 0h4.2m11.8 0h1.2m0.8 0h2.2m7.8 0h1.2m2.8 0h1.2m1.8 0h2.2m2.8 0h5.2m3.8 0h1.2m5.8 0h1.2M78.9 794h2.2m1.8 0h2.2m5.8 0h1.2m0.8 0h2.2m0.8 0h1.2m1.8 0h3.2m0.8 0h3.2m0.8 0h1.2m12.8 0h1.2m2.8 0h3.2m2.8 0h3.2m0.8 0h1.2m0.8 0h3.2m7.8 0h1.2m1.8 0h1.2M79.9 795h1.2m0.8 0h1.2m7.8 0h3.2m2.8 0h1.2m2.8 0h1.2m5.8 0h1.2m3.8 0h1.2m1.8 0h1.2m4.8 0h3.2m1.8 0h1.2m4.8 0h1.2m2.8 0h1.2m5.8 0h2.2m0.8 0h1.2m7.8 0h1.2M77.9 796h2.2m3.8 0h1.2m2.8 0h1.2m1.8 0h2.2m0.8 0h1.2m5.8 0h1.2m6.8 0h1.2m2.8 0h1.2m3.8 0h3.2m4.8 0h1.2m0.8 0h1.2m4.8 0h1.2m4.8 0h2.2m0.8 0h2.2m4.8 0h2.2M82.9 797h1.2m0.8 0h1.2m1.8 0h1.2m3.8 0h1.2m1.8 0h1.2m1.8 0h1.2m2.8 0h4.2m2.8 0h1.2m10.8 0h1.2m3.8 0h2.2m9.8 0h1.2m6.8 0h1.2m0.8 0h1.2m0.8 0h1.2m3.8 0h2.2M85.9 798h1.2m1.8 0h1.2m5.8 0h1.2m1.8 0h1.2m0.8 0h2.2m5.8 0h1.2m1.8 0h1.2m2.8 0h1.2m16.8 0h1.2m1.8 0h2.2m5.8 0h1.2m4.8 0h1.2m4.8 0h3.2M79.9 799h1.2m3.8 0h1.2m11.8 0h1.2m1.8 0h1.2m1.8 0h1.2m7.8 0h1.2m3.8 0h1.2m8.8 0h1.2m2.8 0h1.2m2.8 0h2.2m0.8 0h3.2m1.8 0h1.2m5.8 0h1.2m2.8 0h1.2m11.8 0h1.2M79.9 800h2.2m2.8 0h2.2m2.8 0h1.2m7.8 0h2.2m9.8 0h1.2m11.8 0h2.2m0.8 0h1.2m4.8 0h2.2m0.8 0h1.2m2.8 0h1.2m2.8 0h3.2m4.8 0h1.2M82.9 801h3.2m3.8 0h1.2m6.8 0h1.2m1.8 0h1.2m0.8 0h1.2m12.8 0h2.2m7.8 0h1.2m0.8 0h1.2m2.8 0h1.2m4.8 0h2.2m3.8 0h1.2m6.8 0h1.2m0.8 0h1.2M78.9 802h1.2m2.8 0h1.2m9.8 0h2.2m13.8 0h1.2m16.8 0h1.2m0.8 0h1.2m0.8 0h1.2m6.8 0h1.2m0.8 0h1.2m2.8 0h1.2m5.8 0h1.2M82.9 803h1.2m5.8 0h1.2m3.8 0h2.2m6.8 0h1.2m0.8 0h1.2m12.8 0h1.2m5.8 0h2.2m0.8 0h1.2m1.8 0h1.2m4.8 0h1.2m4.8 0h1.2m3.8 0h2.2m1.8 0h1.2M80.9 804h1.2m9.8 0h1.2m1.8 0h2.2m2.8 0h2.2m10.8 0h1.2m0.8 0h2.2m2.8 0h1.2m6.8 0h1.2m4.8 0h1.2m5.8 0h1.2m2.8 0h1.2m4.8 0h2.2m2.8 0h1.2" stroke="#111" stroke-width="1.2" fill="none"/>
<rect x="77.8" y="696.3" width="108.2" height="109.40000000000009" fill="none" stroke="#111" stroke-width="1.5"/>
<path d="M87.5,698.2H182.5V734.8H87.5Z M130.2,698.2V734.8" fill="none" stroke="#1a1a1a" stroke-width="1.2"/>
<path d="M77.8,805.7v3.5M77.8,805.7h-3.5" stroke="#111" stroke-width="1.2"/>
<text x="78.3" y="816.2" font-size="5.5" font-weight="bold" text-anchor="middle" stroke="#111" stroke-width="0.3">10<tspan font-size="4" dy="-2">0</tspan></text>
<text x="71.0" y="807.0" font-size="5.5" font-weight="bold" text-anchor="end" stroke="#111" stroke-width="0.3">10<tspan font-size="4" dy="-2">0</tspan></text>
<path d="M104.8,805.7v3.5M77.8,778.4h-3.5" stroke="#111" stroke-width="1.2"/>
<text x="105.3" y="816.2" font-size="5.5" font-weight="bold" text-anchor="middle" stroke="#111" stroke-width="0.3">10<tspan font-size="4" dy="-2">1</tspan></text>
<text x="71.0" y="779.6" font-size="5.5" font-weight="bold" text-anchor="end" stroke="#111" stroke-width="0.3">10<tspan font-size="4" dy="-2">1</tspan></text>
<path d="M131.9,805.7v3.5M77.8,751.0h-3.5" stroke="#111" stroke-width="1.2"/>
<text x="132.4" y="816.2" font-size="5.5" font-weight="bold" text-anchor="middle" stroke="#111" stroke-width="0.3">10<tspan font-size="4" dy="-2">2</tspan></text>
<text x="71.0" y="752.3" font-size="5.5" font-weight="bold" text-anchor="end" stroke="#111" stroke-width="0.3">10<tspan font-size="4" dy="-2">2</tspan></text>
<path d="M158.9,805.7v3.5M77.8,723.6h-3.5" stroke="#111" stroke-width="1.2"/>
<text x="159.4" y="816.2" font-size="5.5" font-weight="bold" text-anchor="middle" stroke="#111" stroke-width="0.3">10<tspan font-size="4" dy="-2">3</tspan></text>
<text x="71.0" y="724.9" font-size="5.5" font-weight="bold" text-anchor="end" stroke="#111" stroke-width="0.3">10<tspan font-size="4" dy="-2">3</tspan></text>
<path d="M186.0,805.7v3.5M77.8,696.3h-3.5" stroke="#111" stroke-width="1.2"/>
<text x="186.5" y="816.2" font-size="5.5" font-weight="bold" text-anchor="middle" stroke="#111" stroke-width="0.3">10<tspan font-size="4" dy="-2">4</tspan></text>
<text x="71.0" y="697.6" font-size="5.5" font-weight="bold" text-anchor="end" stroke="#111" stroke-width="0.3">10<tspan font-size="4" dy="-2">4</tspan></text>
<text x="239.6" y="527" font-size="11.5" font-weight="bold" textLength="32.7" lengthAdjust="spacingAndGlyphs">EGFP</text>
<text x="274.0" y="522.3" font-size="9" font-weight="bold" textLength="3.8" lengthAdjust="spacingAndGlyphs">-</text>
<text x="286.1" y="527" font-size="11.5" font-weight="bold" textLength="25.8" lengthAdjust="spacingAndGlyphs">Gr-1</text>
<text x="312.2" y="525.4" font-size="13.5" font-weight="bold" textLength="7.2" lengthAdjust="spacingAndGlyphs">+</text>
<text x="320.7" y="527" font-size="11.5" font-weight="bold" textLength="34.6" lengthAdjust="spacingAndGlyphs">Cells</text>
<text x="266.8" y="540.6" font-size="11" font-weight="bold" textLength="60.1" lengthAdjust="spacingAndGlyphs">(R1 Gate)</text>
<text x="396.4" y="527.3" font-size="11.5" font-weight="bold" textLength="33.8" lengthAdjust="spacingAndGlyphs">EGFP</text>
<text x="431.2" y="525.4" font-size="13.5" font-weight="bold" textLength="7.4" lengthAdjust="spacingAndGlyphs">+</text>
<text x="443.7" y="527.3" font-size="11.5" font-weight="bold" textLength="28.3" lengthAdjust="spacingAndGlyphs">Gr-1</text>
<text x="473.0" y="525.4" font-size="13.5" font-weight="bold" textLength="7.4" lengthAdjust="spacingAndGlyphs">+</text>
<text x="484.3" y="527.3" font-size="11.5" font-weight="bold" textLength="33.7" lengthAdjust="spacingAndGlyphs">Cells</text>
<text x="425.5" y="541" font-size="11" font-weight="bold" textLength="60.5" lengthAdjust="spacingAndGlyphs">(R2 Gate)</text>
<path d="M243.9,658.1L243.9,658.1L244.5,658.1L245.1,658.1L245.7,657.4L246.3,658.1L246.9,658.1L247.5,657.9L248.1,657.4L248.7,658.1L249.3,658.1L249.9,657.5L250.5,658.0L251.1,658.1L251.7,657.5L252.3,658.1L252.9,658.0L253.5,657.5L254.1,657.4L254.7,658.1L255.3,657.6L255.9,657.6L256.5,657.8L257.1,657.6L257.7,654.9L258.3,657.4L258.9,657.3L259.5,657.2L260.1,656.6L260.7,656.1L261.3,655.4L261.9,655.7L262.5,654.6L263.1,654.8L263.7,654.0L264.3,653.4L264.9,652.7L265.5,651.9L266.1,651.7L266.7,652.1L267.3,651.6L267.9,650.4L268.5,651.2L269.1,652.1L269.7,651.5L270.3,650.9L270.9,649.9L271.5,649.6L272.1,648.1L272.7,647.7L273.3,645.3L273.9,645.5L274.5,645.0L275.1,642.0L275.7,638.7L276.3,638.5L276.9,636.5L277.5,636.8L278.1,631.0L278.7,628.9L279.3,629.3L279.9,628.9L280.5,629.5L281.1,627.2L281.7,626.5L282.3,622.7L282.9,623.0L283.5,622.3L284.1,621.4L284.7,620.3L285.3,617.2L285.9,613.0L286.5,612.1L287.1,615.5L287.7,617.0L288.3,620.2L288.9,622.8L289.5,622.5L290.1,620.4L290.7,623.1L291.3,620.9L291.9,625.9L292.5,630.5L293.1,630.6L293.7,632.7L294.3,632.9L294.9,633.5L295.5,634.1L296.1,636.0L296.7,636.0L297.3,633.6L297.9,638.7L298.5,635.4L299.1,634.6L299.7,635.6L300.3,635.5L300.9,635.1L301.5,635.8L302.1,633.3L302.7,636.7L303.3,638.0L303.9,641.5L304.5,636.9L305.1,637.8L305.7,636.2L306.3,637.8L306.9,637.1L307.5,635.5L308.1,635.7L308.7,636.2L309.3,635.7L309.9,635.7L310.5,634.5L311.1,633.8L311.7,632.1L312.3,631.9L312.9,626.4L313.5,631.4L314.1,632.0L314.7,630.5L315.3,632.8L315.9,631.2L316.5,632.1L317.1,621.3L317.7,608.3L318.3,601.0L318.9,594.0L319.5,583.8L320.1,574.1L320.7,570.2L321.3,567.8L321.9,573.9L322.5,588.1L323.1,603.6L323.7,622.2L324.3,632.5L324.9,634.3L325.5,633.2L326.1,633.5L326.7,634.8L327.3,633.1L327.9,636.6L328.5,637.2L329.1,639.6L329.7,642.8L330.3,645.7L330.9,649.8L331.5,650.5L332.1,651.1L332.7,651.2L333.3,651.2L333.9,650.5L334.5,651.7L335.1,652.6L335.7,651.0L336.3,652.2L336.9,652.0L337.5,653.5L338.1,653.0L338.7,652.5L339.3,654.0L339.9,652.9L340.5,653.4L341.1,653.2L341.7,653.4L342.3,653.0L342.9,653.8L343.5,654.1L344.1,653.3L344.7,653.2L345.3,653.4L345.9,655.5L346.5,655.1L347.1,656.0L347.7,655.5L348.3,655.7L348.9,655.7L349.5,656.3L350.1,656.0L350.7,656.7L351.3,656.4L351.9,656.2L352.5,656.8L353.1,656.0L353.1,658.1Z" fill="#0a0a0a"/>
<path d="M243.9,658.1V550H353.1V658.1" fill="none" stroke="#111" stroke-width="1.4"/>
<path d="M243.9,658.1H353.1" stroke="#111" stroke-width="1.4"/>
<path d="M239.9,550H243.9M239.9,604.0H243.9M239.9,658.1H243.9" stroke="#111" stroke-width="1.2"/>
<text x="223.9" y="551.9" font-size="7.5" font-weight="bold" textLength="14.3" lengthAdjust="spacingAndGlyphs">120</text>
<text transform="translate(234.1,637.5) rotate(-90)" font-size="11.8" textLength="62.8" lengthAdjust="spacingAndGlyphs">Cell Number</text>
<path d="M243.9,658.1v3.5" stroke="#111" stroke-width="1.2"/>
<text x="244.4" y="669.6" font-size="5.5" font-weight="bold" text-anchor="middle" stroke="#111" stroke-width="0.3">10<tspan font-size="4" dy="-2">0</tspan></text>
<path d="M271.2,658.1v3.5" stroke="#111" stroke-width="1.2"/>
<text x="271.7" y="669.6" font-size="5.5" font-weight="bold" text-anchor="middle" stroke="#111" stroke-width="0.3">10<tspan font-size="4" dy="-2">1</tspan></text>
<path d="M298.5,658.1v3.5" stroke="#111" stroke-width="1.2"/>
<text x="299.0" y="669.6" font-size="5.5" font-weight="bold" text-anchor="middle" stroke="#111" stroke-width="0.3">10<tspan font-size="4" dy="-2">2</tspan></text>
<path d="M325.8,658.1v3.5" stroke="#111" stroke-width="1.2"/>
<text x="326.3" y="669.6" font-size="5.5" font-weight="bold" text-anchor="middle" stroke="#111" stroke-width="0.3">10<tspan font-size="4" dy="-2">3</tspan></text>
<path d="M353.1,658.1v3.5" stroke="#111" stroke-width="1.2"/>
<text x="353.6" y="669.6" font-size="5.5" font-weight="bold" text-anchor="middle" stroke="#111" stroke-width="0.3">10<tspan font-size="4" dy="-2">4</tspan></text>
<path d="M399.6,659.2L399.6,659.1L400.2,658.9L400.8,658.5L401.4,659.2L402.0,659.1L402.6,659.2L403.2,659.2L403.8,659.2L404.4,658.1L405.0,659.0L405.6,659.0L406.2,658.0L406.8,658.8L407.4,658.7L408.0,658.5L408.6,659.1L409.2,658.6L409.8,658.1L410.4,658.5L411.0,659.2L411.6,658.5L412.2,658.2L412.8,657.8L413.4,658.5L414.0,658.6L414.6,658.3L415.2,658.8L415.8,658.4L416.4,658.6L417.0,658.3L417.6,658.3L418.2,658.1L418.8,657.6L419.4,658.3L420.0,658.6L420.6,657.9L421.2,656.4L421.8,654.7L422.4,653.7L423.0,652.6L423.6,650.9L424.2,647.9L424.8,648.0L425.4,645.2L426.0,642.8L426.6,642.6L427.2,637.9L427.8,633.7L428.4,628.5L429.0,625.4L429.6,618.8L430.2,613.0L430.8,604.8L431.4,596.5L432.0,591.6L432.6,586.8L433.2,578.0L433.8,572.4L434.4,566.4L435.0,560.3L435.6,554.4L436.2,549.6L436.8,549.6L437.4,549.6L438.0,549.6L438.6,549.6L439.2,549.6L439.8,549.6L440.4,549.6L441.0,549.6L441.6,549.6L442.2,549.6L442.8,549.6L443.4,549.6L444.0,549.6L444.6,549.6L445.2,549.6L445.8,549.6L446.4,549.6L447.0,549.6L447.6,549.6L448.2,562.9L448.8,576.5L449.4,586.7L450.0,596.9L450.6,604.8L451.2,617.7L451.8,623.1L452.4,630.3L453.0,638.6L453.6,643.7L454.2,651.8L454.8,655.5L455.4,656.2L456.0,657.1L456.6,656.7L457.2,657.8L457.8,657.7L458.4,657.5L459.0,658.1L459.6,656.8L460.2,657.5L460.8,657.8L461.4,657.7L462.0,657.7L462.6,659.2L463.2,657.9L463.8,658.0L464.4,657.9L465.0,657.6L465.6,657.4L466.2,658.2L466.8,658.2L467.4,659.2L468.0,657.8L468.6,658.0L469.2,657.8L469.8,657.7L470.4,656.5L471.0,657.4L471.6,657.0L472.2,655.8L472.8,656.3L473.4,655.7L474.0,654.8L474.6,653.5L475.2,652.9L475.8,651.7L476.4,651.9L477.0,654.0L477.6,656.0L478.2,655.4L478.8,656.0L479.4,656.3L480.0,655.9L480.6,656.4L481.2,656.5L481.8,656.2L482.4,657.2L483.0,656.3L483.6,657.5L484.2,657.1L484.8,657.3L485.4,657.3L486.0,658.2L486.6,659.2L487.2,657.7L487.8,658.2L488.4,657.3L489.0,658.1L489.6,658.0L490.2,658.4L490.8,658.0L491.4,658.5L492.0,659.2L492.6,658.2L493.2,658.0L493.8,659.0L494.4,657.8L495.0,658.9L495.6,659.2L496.2,658.2L496.8,658.8L497.4,659.2L498.0,658.4L498.6,659.2L499.2,659.1L499.8,658.2L500.4,658.6L501.0,659.2L501.6,658.3L502.2,659.0L502.8,658.2L503.4,658.9L504.0,658.9L504.6,659.2L505.2,658.6L505.8,658.8L506.4,659.2L507.0,659.1L507.6,659.2L508.2,658.7L508.8,659.1L508.8,659.2Z" fill="#0a0a0a"/>
<path d="M399.6,659.2V549.6H508.8V659.2" fill="none" stroke="#111" stroke-width="1.4"/>
<path d="M399.6,659.2H508.8" stroke="#111" stroke-width="1.4"/>
<path d="M395.6,549.6H399.6M395.6,604.4H399.6M395.6,659.2H399.6" stroke="#111" stroke-width="1.2"/>
<text x="379.2" y="553.1" font-size="7.5" font-weight="bold" textLength="14.2" lengthAdjust="spacingAndGlyphs">120</text>
<text transform="translate(388.7,637.4) rotate(-90)" font-size="11.8" textLength="62.8" lengthAdjust="spacingAndGlyphs">Cell Number</text>
<path d="M399.6,659.2v3.5" stroke="#111" stroke-width="1.2"/>
<text x="400.1" y="670.7" font-size="5.5" font-weight="bold" text-anchor="middle" stroke="#111" stroke-width="0.3">10<tspan font-size="4" dy="-2">0</tspan></text>
<path d="M426.9,659.2v3.5" stroke="#111" stroke-width="1.2"/>
<text x="427.4" y="670.7" font-size="5.5" font-weight="bold" text-anchor="middle" stroke="#111" stroke-width="0.3">10<tspan font-size="4" dy="-2">1</tspan></text>
<path d="M454.2,659.2v3.5" stroke="#111" stroke-width="1.2"/>
<text x="454.7" y="670.7" font-size="5.5" font-weight="bold" text-anchor="middle" stroke="#111" stroke-width="0.3">10<tspan font-size="4" dy="-2">2</tspan></text>
<path d="M481.5,659.2v3.5" stroke="#111" stroke-width="1.2"/>
<text x="482.0" y="670.7" font-size="5.5" font-weight="bold" text-anchor="middle" stroke="#111" stroke-width="0.3">10<tspan font-size="4" dy="-2">3</tspan></text>
<path d="M508.8,659.2v3.5" stroke="#111" stroke-width="1.2"/>
<text x="509.3" y="670.7" font-size="5.5" font-weight="bold" text-anchor="middle" stroke="#111" stroke-width="0.3">10<tspan font-size="4" dy="-2">4</tspan></text>
<path d="M242.2,806.6L242.2,806.6L242.8,806.6L243.4,806.1L244.0,806.0L244.6,806.6L245.2,806.6L245.8,806.1L246.4,806.1L247.0,806.6L247.6,806.4L248.2,806.3L248.8,806.2L249.4,805.5L250.0,806.2L250.6,806.1L251.2,806.1L251.8,806.2L252.4,806.2L253.0,806.1L253.6,806.1L254.2,804.5L254.8,805.7L255.4,805.5L256.0,805.8L256.6,806.0L257.2,803.7L257.8,805.2L258.4,804.0L259.0,803.7L259.6,803.3L260.2,802.8L260.8,802.6L261.4,801.2L262.0,800.7L262.6,799.5L263.2,798.4L263.8,797.4L264.4,797.0L265.0,795.7L265.6,793.6L266.2,792.0L266.8,789.2L267.4,789.1L268.0,784.2L268.6,782.3L269.2,779.1L269.8,776.9L270.4,773.4L271.0,769.6L271.6,768.8L272.2,766.3L272.8,764.4L273.4,767.0L274.0,760.1L274.6,759.6L275.2,755.8L275.8,755.3L276.4,753.1L277.0,751.2L277.6,750.2L278.2,751.1L278.8,747.8L279.4,746.4L280.0,748.6L280.6,749.3L281.2,747.5L281.8,747.1L282.4,748.5L283.0,747.2L283.6,747.0L284.2,751.4L284.8,748.5L285.4,749.3L286.0,741.0L286.6,748.4L287.2,751.5L287.8,749.9L288.4,754.4L289.0,754.4L289.6,757.2L290.2,760.8L290.8,768.0L291.4,766.8L292.0,772.0L292.6,776.2L293.2,780.2L293.8,781.4L294.4,788.3L295.0,785.2L295.6,787.3L296.2,786.6L296.8,787.7L297.4,789.4L298.0,788.7L298.6,786.8L299.2,787.2L299.8,786.0L300.4,788.4L301.0,787.6L301.6,787.0L302.2,786.2L302.8,785.5L303.4,782.5L304.0,782.3L304.6,783.0L305.2,782.9L305.8,783.1L306.4,782.1L307.0,782.2L307.6,783.7L308.2,785.9L308.8,784.3L309.4,784.7L310.0,784.3L310.6,785.5L311.2,784.3L311.8,785.7L312.4,785.1L313.0,786.3L313.6,786.3L314.2,787.3L314.8,787.0L315.4,788.3L316.0,787.4L316.6,785.3L317.2,789.3L317.8,787.4L318.4,787.1L319.0,786.8L319.6,784.6L320.2,785.2L320.8,780.0L321.4,778.5L322.0,772.3L322.6,767.5L323.2,759.6L323.8,751.9L324.4,744.7L325.0,733.5L325.6,724.7L326.2,715.8L326.8,702.2L327.4,713.7L328.0,719.2L328.6,734.6L329.2,750.4L329.8,769.1L330.4,785.7L331.0,786.0L331.6,788.2L332.2,786.3L332.8,789.3L333.4,790.2L334.0,792.0L334.6,791.0L335.2,792.9L335.8,794.9L336.4,795.9L337.0,797.4L337.6,798.0L338.2,797.6L338.8,799.2L339.4,798.8L340.0,799.9L340.6,800.6L341.2,800.5L341.8,800.8L342.4,801.7L343.0,800.6L343.6,801.2L344.2,801.4L344.8,801.4L345.4,801.4L346.0,801.5L346.6,802.2L347.2,802.7L347.8,804.1L348.4,803.1L349.0,804.2L349.6,804.4L350.2,804.3L350.8,804.9L351.3,806.6Z" fill="#0a0a0a"/>
<path d="M242.2,806.6V695.6H351.3V806.6" fill="none" stroke="#111" stroke-width="1.4"/>
<path d="M242.2,806.6H351.3" stroke="#111" stroke-width="1.4"/>
<path d="M238.2,695.6H242.2M238.2,751.1H242.2M238.2,806.6H242.2" stroke="#111" stroke-width="1.2"/>
<text x="222.4" y="698.3" font-size="7.5" font-weight="bold" textLength="13.6" lengthAdjust="spacingAndGlyphs">120</text>
<text transform="translate(234.1,783.4) rotate(-90)" font-size="11.8" textLength="62.8" lengthAdjust="spacingAndGlyphs">Cell Number</text>
<path d="M242.2,806.6v3.5" stroke="#111" stroke-width="1.2"/>
<text x="242.7" y="818.1" font-size="5.5" font-weight="bold" text-anchor="middle" stroke="#111" stroke-width="0.3">10<tspan font-size="4" dy="-2">0</tspan></text>
<path d="M269.5,806.6v3.5" stroke="#111" stroke-width="1.2"/>
<text x="270.0" y="818.1" font-size="5.5" font-weight="bold" text-anchor="middle" stroke="#111" stroke-width="0.3">10<tspan font-size="4" dy="-2">1</tspan></text>
<path d="M296.8,806.6v3.5" stroke="#111" stroke-width="1.2"/>
<text x="297.2" y="818.1" font-size="5.5" font-weight="bold" text-anchor="middle" stroke="#111" stroke-width="0.3">10<tspan font-size="4" dy="-2">2</tspan></text>
<path d="M324.0,806.6v3.5" stroke="#111" stroke-width="1.2"/>
<text x="324.5" y="818.1" font-size="5.5" font-weight="bold" text-anchor="middle" stroke="#111" stroke-width="0.3">10<tspan font-size="4" dy="-2">3</tspan></text>
<path d="M351.3,806.6v3.5" stroke="#111" stroke-width="1.2"/>
<text x="351.8" y="818.1" font-size="5.5" font-weight="bold" text-anchor="middle" stroke="#111" stroke-width="0.3">10<tspan font-size="4" dy="-2">4</tspan></text>
<path d="M398.1,805.6L398.1,805.2L398.7,805.2L399.3,805.3L399.9,805.2L400.5,805.1L401.1,805.0L401.7,805.4L402.3,804.2L402.9,805.0L403.5,805.0L404.1,804.8L404.7,804.4L405.3,805.2L405.9,803.3L406.5,804.6L407.1,804.1L407.7,802.8L408.3,803.3L408.9,803.1L409.5,802.5L410.1,802.7L410.7,802.2L411.3,802.2L411.9,801.4L412.5,800.1L413.1,800.5L413.7,799.9L414.3,798.4L414.9,798.5L415.5,797.7L416.1,797.6L416.7,796.2L417.3,795.2L417.9,795.1L418.5,793.4L419.1,792.1L419.7,789.4L420.3,787.6L420.9,784.8L421.5,782.6L422.1,777.0L422.7,773.4L423.3,769.0L423.9,766.8L424.5,761.9L425.1,757.1L425.7,756.0L426.3,751.6L426.9,746.6L427.5,745.4L428.1,745.0L428.7,745.8L429.3,744.6L429.9,740.7L430.5,736.6L431.1,732.0L431.7,735.3L432.3,734.6L432.9,734.7L433.5,733.3L434.1,729.7L434.7,722.8L435.3,718.0L435.9,721.2L436.5,721.8L437.1,716.9L437.7,714.2L438.3,708.8L438.9,703.3L439.5,698.3L440.1,698.1L440.7,698.1L441.3,698.1L441.9,698.1L442.5,698.1L443.1,698.1L443.7,698.1L444.3,698.1L444.9,698.1L445.5,698.1L446.1,698.1L446.7,698.1L447.3,698.1L447.9,698.1L448.5,698.1L449.1,698.1L449.7,698.1L450.3,703.6L450.9,724.1L451.5,738.6L452.1,753.3L452.7,770.6L453.3,787.4L453.9,796.0L454.5,801.2L455.1,801.6L455.7,802.3L456.3,802.8L456.9,802.9L457.5,803.3L458.1,803.3L458.7,802.9L459.3,803.7L459.9,803.8L460.5,803.6L461.1,803.8L461.7,803.8L462.3,803.8L462.9,803.6L463.5,803.8L464.1,803.8L464.7,803.9L465.3,804.0L465.9,803.9L466.5,803.5L467.1,804.0L467.7,804.2L468.3,803.9L468.9,804.2L469.5,804.4L470.1,803.7L470.7,803.7L471.3,803.4L471.9,803.1L472.5,803.6L473.1,803.9L473.7,803.7L474.3,803.3L474.9,803.2L475.5,803.1L476.1,803.1L476.7,801.0L477.3,801.2L477.9,799.9L478.5,798.7L479.1,798.1L479.7,800.8L480.3,800.8L480.9,801.0L481.5,799.9L482.1,801.0L482.7,801.4L483.3,800.9L483.9,801.6L484.5,801.4L485.1,802.6L485.7,801.9L486.3,801.6L486.9,801.3L487.5,802.1L488.1,802.8L488.7,802.3L489.3,802.8L489.9,802.9L490.5,803.9L491.1,803.9L491.7,803.4L492.3,803.5L492.9,803.8L493.5,804.6L494.1,804.6L494.7,803.8L495.3,804.7L495.9,804.6L496.5,804.5L497.1,804.6L497.7,804.5L498.3,804.7L498.9,804.7L499.5,804.8L500.1,805.0L500.7,804.9L501.3,804.5L501.9,804.8L502.5,805.3L503.1,804.9L503.7,805.0L504.3,805.0L504.9,804.4L505.5,805.2L506.1,805.6L506.7,805.1L507.3,805.6L507.5,805.6Z" fill="#0a0a0a"/>
<path d="M398.1,805.6V696.1H507.5V805.6" fill="none" stroke="#111" stroke-width="1.4"/>
<path d="M398.1,805.6H507.5" stroke="#111" stroke-width="1.4"/>
<path d="M394.1,696.1H398.1M394.1,750.9H398.1M394.1,805.6H398.1" stroke="#111" stroke-width="1.2"/>
<text x="377.1" y="699.5" font-size="7.5" font-weight="bold" textLength="13.2" lengthAdjust="spacingAndGlyphs">120</text>
<text transform="translate(388.2,783.4) rotate(-90)" font-size="11.8" textLength="62.8" lengthAdjust="spacingAndGlyphs">Cell Number</text>
<path d="M398.1,805.6v3.5" stroke="#111" stroke-width="1.2"/>
<text x="398.6" y="817.1" font-size="5.5" font-weight="bold" text-anchor="middle" stroke="#111" stroke-width="0.3">10<tspan font-size="4" dy="-2">0</tspan></text>
<path d="M425.5,805.6v3.5" stroke="#111" stroke-width="1.2"/>
<text x="426.0" y="817.1" font-size="5.5" font-weight="bold" text-anchor="middle" stroke="#111" stroke-width="0.3">10<tspan font-size="4" dy="-2">1</tspan></text>
<path d="M452.8,805.6v3.5" stroke="#111" stroke-width="1.2"/>
<text x="453.3" y="817.1" font-size="5.5" font-weight="bold" text-anchor="middle" stroke="#111" stroke-width="0.3">10<tspan font-size="4" dy="-2">2</tspan></text>
<path d="M480.1,805.6v3.5" stroke="#111" stroke-width="1.2"/>
<text x="480.6" y="817.1" font-size="5.5" font-weight="bold" text-anchor="middle" stroke="#111" stroke-width="0.3">10<tspan font-size="4" dy="-2">3</tspan></text>
<path d="M507.5,805.6v3.5" stroke="#111" stroke-width="1.2"/>
<text x="508.0" y="817.1" font-size="5.5" font-weight="bold" text-anchor="middle" stroke="#111" stroke-width="0.3">10<tspan font-size="4" dy="-2">4</tspan></text>
<path d="M242,832.6H494" stroke="#111" stroke-width="1.4"/>
<path d="M505.5,832.8L491.5,829.4L491.5,836.2Z" fill="#111"/>
<text x="323.6" y="848.0" font-size="13.2" font-weight="bold" textLength="111.5" lengthAdjust="spacingAndGlyphs">Propidium Iodide</text>
</svg></body></html>
